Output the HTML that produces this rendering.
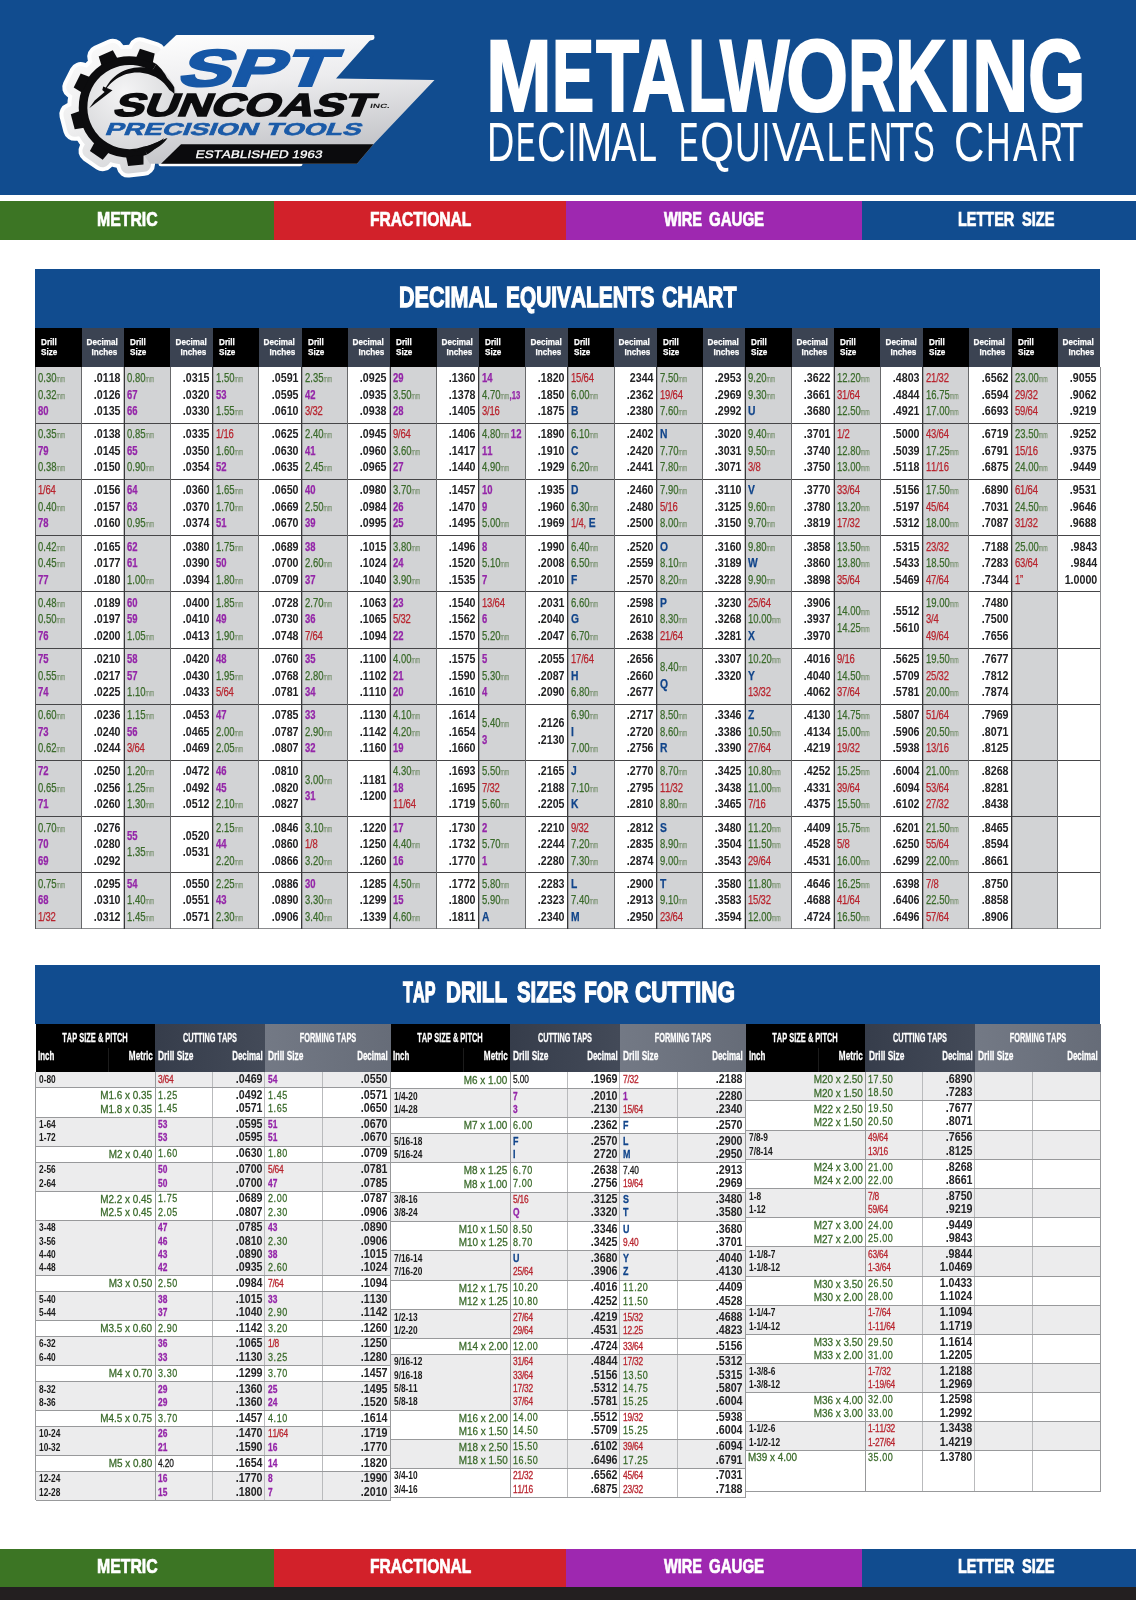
<!DOCTYPE html>
<html lang="en"><head><meta charset="utf-8"><title>Metalworking Decimal Equivalents Chart</title>
<style>
*{box-sizing:border-box}
html,body{margin:0;padding:0}
body{width:1136px;height:1600px;position:relative;overflow:hidden;background:#fff;font-family:"Liberation Sans",sans-serif;font-kerning:none;color:#1a1a1a}
#pg{position:absolute;left:0;top:0;width:1136px;height:1600px;will-change:transform}
.a{position:absolute}
.t{position:absolute;white-space:pre;display:block;transform-origin:0 0;line-height:1}
.tr{transform-origin:100% 0;text-align:right}
.tc{transform-origin:50% 0;text-align:center}
.lw{position:absolute;left:0;color:#fff;line-height:1;white-space:pre}.lw span{position:absolute;top:0;display:block;transform-origin:0 0}

.dc{position:absolute;white-space:nowrap;font-size:12.3px;line-height:16.5px;transform:scaleX(.77);transform-origin:0 0;-webkit-text-stroke:.25px}
.dd{position:absolute;white-space:nowrap;font-size:12.2px;line-height:16.5px;transform:scaleX(.875);transform-origin:100% 0;text-align:right;color:#222224;font-weight:700}
.g{color:#3a6a2a}.r{color:#b8242e;letter-spacing:-.25px}.p{color:#9425a8;font-weight:700}.b{color:#10448a;font-weight:700;font-size:13.4px;line-height:0}.k{color:#1a1a1a}
.g i{font-style:normal;font-size:9.5px;line-height:1;display:inline-block;transform:scaleX(.72);transform-origin:0 50%;color:#7d9474;margin-left:.5px}
.g i.n{margin-right:-4.5px}
.s{font-size:10px;line-height:0}

.tl{position:absolute;white-space:nowrap;line-height:13.3px;transform-origin:0 0}
.ti{font-size:11.2px;transform:scaleX(.745);color:#1a1a1a;font-weight:700}
.tm{font-size:11.7px;transform:scaleX(.85);transform-origin:100% 0;text-align:right;color:#3a6a2a;-webkit-text-stroke:.3px #3a6a2a}
.tml{font-size:11.7px;transform:scaleX(.85);color:#3a6a2a;-webkit-text-stroke:.3px #3a6a2a}
.td{font-size:10.9px;transform:scaleX(.77);-webkit-text-stroke:.3px}
.td .g{font-size:11.7px;letter-spacing:.75px;line-height:0}
.td .k{letter-spacing:-.2px}
.td .b{font-size:11.6px}
.tn{font-size:12.2px;transform:scaleX(.875);transform-origin:100% 0;text-align:right;color:#222224;font-weight:700}
</style></head>
<body>
<div id="pg">
<div class="a" style="left:0px;top:0px;width:1136px;height:194.5px;background:#114c8f;"></div>
<div class="a" style="left:0px;top:201px;width:274.5px;height:39px;background:#3c7524;"></div>
<div class="a" style="left:274px;top:201px;width:292.5px;height:39px;background:#d2212a;"></div>
<div class="a" style="left:566px;top:201px;width:296.8px;height:39px;background:#9e28b0;"></div>
<div class="a" style="left:862.4px;top:201px;width:273.6px;height:39px;background:#114c8f;"></div>
<div class="a" style="left:0px;top:1548.8px;width:274.5px;height:38.5px;background:#3c7524;"></div>
<div class="a" style="left:274px;top:1548.8px;width:292.5px;height:38.5px;background:#d2212a;"></div>
<div class="a" style="left:566px;top:1548.8px;width:296.8px;height:38.5px;background:#9e28b0;"></div>
<div class="a" style="left:862.4px;top:1548.8px;width:273.6px;height:38.5px;background:#114c8f;"></div>
<div class="a" style="left:0px;top:1587.2px;width:1136px;height:12.8px;background:#231f20;"></div>
<svg class="a" style="left:0;top:0" width="1136" height="195" viewBox="0 0 1136 195" font-family="Liberation Sans, sans-serif">
<defs>
<linearGradient id="sv" x1="0" y1="0" x2="0.25" y2="1"><stop offset="0" stop-color="#ffffff"/><stop offset=".45" stop-color="#ececee"/><stop offset="1" stop-color="#c3c4c8"/></linearGradient>
<linearGradient id="hl" gradientUnits="userSpaceOnUse" x1="80" y1="40" x2="150" y2="180"><stop offset="0" stop-color="#fbfbfb"/><stop offset=".5" stop-color="#ededee"/><stop offset="1" stop-color="#cfd0d3"/></linearGradient>
<radialGradient id="sg" cx=".45" cy=".35" r=".75"><stop offset="0" stop-color="#f4f4f5"/><stop offset="1" stop-color="#cfd0d3"/></radialGradient>
</defs>
<g fill="#fefefe" stroke="#fefefe" stroke-linejoin="round" stroke-linecap="round">
<path d="M145.4,150.6 A46.4,46.4 0 1 1 154.1,67.7" fill="none" stroke-width="31.6"/>
<g stroke-width="23"><polygon points="152.7,63.0 154.7,53.5 139.9,48.8 136.1,57.7"/><polygon points="117.6,58.7 112.8,50.3 98.7,56.6 101.6,65.7"/><polygon points="89.8,77.0 80.7,73.6 73.7,87.4 81.8,92.6"/><polygon points="79.9,110.9 70.8,114.3 74.7,129.3 84.3,127.8"/><polygon points="94.5,142.4 89.9,150.9 102.7,159.7 109.0,152.3"/><polygon points="126.1,156.7 128.1,166.1 143.5,164.4 143.5,154.8"/></g>
<circle cx="129.5" cy="107.0" r="46.4" stroke-width="4"/>
<polygon points="181,144.2 300,144.2 300,163.7 161,163.7" stroke-width="5"/>
<polygon points="178,37.5 372,37.5 250,60 168,60" stroke-width="5"/>
</g>
<g fill="url(#hl)" stroke="url(#hl)" stroke-linejoin="round" stroke-linecap="round">
<path d="M145.4,150.6 A46.4,46.4 0 1 1 154.1,67.7" fill="none" stroke-width="23.6"/>
<g stroke-width="15"><polygon points="152.7,63.0 154.7,53.5 139.9,48.8 136.1,57.7"/><polygon points="117.6,58.7 112.8,50.3 98.7,56.6 101.6,65.7"/><polygon points="89.8,77.0 80.7,73.6 73.7,87.4 81.8,92.6"/><polygon points="79.9,110.9 70.8,114.3 74.7,129.3 84.3,127.8"/><polygon points="94.5,142.4 89.9,150.9 102.7,159.7 109.0,152.3"/><polygon points="126.1,156.7 128.1,166.1 143.5,164.4 143.5,154.8"/></g>
</g>
<polygon points="176,35.2 374.5,35.2 336,78.4 434.5,80 373.5,144.3 357,163.7 150,163.7 120,120 150,60" fill="url(#sv)"/>
<circle cx="129.5" cy="107.0" r="49.4" fill="url(#sg)"/>
<polygon points="181,144.2 373.5,144.2 357,163.7 161,163.7" fill="#0b0b0d"/>
<g fill="#0c0c0e">
<path d="M145.4,150.6 A46.4,46.4 0 1 1 154.1,67.7" fill="none" stroke="#0c0c0e" stroke-width="8.6"/>
<polygon points="152.7,63.0 154.7,53.5 139.9,48.8 136.1,57.7"/><polygon points="117.6,58.7 112.8,50.3 98.7,56.6 101.6,65.7"/><polygon points="89.8,77.0 80.7,73.6 73.7,87.4 81.8,92.6"/><polygon points="79.9,110.9 70.8,114.3 74.7,129.3 84.3,127.8"/><polygon points="94.5,142.4 89.9,150.9 102.7,159.7 109.0,152.3"/><polygon points="126.1,156.7 128.1,166.1 143.5,164.4 143.5,154.8"/><polygon points="156.4,64.0 157.7,65.2 158.9,66.5 160.1,67.8 161.3,69.1 162.4,70.5 163.4,71.9 164.4,73.3 165.4,74.7 166.2,76.2 167.0,77.7 167.8,79.2 168.5,80.7 169.1,82.2 169.7,83.8 169.7,83.8 168.6,82.6 167.5,81.4 166.3,80.3 165.1,79.2 163.9,78.2 162.6,77.2 161.3,76.3 160.0,75.4 158.7,74.6 157.4,73.8 156.0,73.1 154.6,72.4 153.2,71.8 151.8,71.3"/><polygon points="146.8,154.6 148.4,153.7 149.9,152.8 151.3,151.7 152.7,150.7 154.1,149.6 155.4,148.4 156.6,147.2 157.9,146.0 159.0,144.8 160.1,143.5 161.2,142.2 162.2,140.8 163.1,139.4 164.0,138.0 164.0,138.0 162.7,139.0 161.3,139.9 159.9,140.8 158.5,141.6 157.1,142.4 155.7,143.0 154.2,143.7 152.8,144.3 151.3,144.8 149.8,145.3 148.4,145.7 146.9,146.0 145.4,146.3 143.9,146.6"/><polygon points="104.3,91.5 105.3,88.7 106.7,86.0 108.4,83.5 110.2,81.1 112.3,78.8 114.5,76.7 116.9,74.8 119.5,73.1 122.2,71.6 125.0,70.3 127.9,69.2 130.9,68.4 134.0,67.7 137.1,67.4 140.2,67.2 143.4,67.3 146.5,67.7 149.6,68.4 152.7,69.4 155.6,70.6 158.4,72.0 161.2,73.6 163.8,75.4 166.2,77.4 168.5,79.6 170.6,82.0 172.5,84.5 174.2,87.2 174.4,90.6 174.4,93.9 174.4,93.9 172.0,91.8 169.4,90.1 167.8,87.8 166.2,85.7 164.3,83.6 162.4,81.8 160.3,80.0 158.0,78.5 155.7,77.1 153.2,75.9 150.7,74.9 148.1,74.0 145.5,73.4 142.8,73.0 140.0,72.6 137.3,72.5 134.5,72.6 131.8,72.9 129.1,73.4 126.4,74.1 123.7,75.1 121.1,76.2 118.6,77.5 116.2,79.0 113.9,80.7 111.8,82.6 109.7,84.6 107.8,86.8 106.0,89.1 104.3,91.5"/><polygon points="103.2,86.6 112.5,90.3 97.3,102.1 89.2,108.3 94.7,100.4 104.6,92.0 102.3,89.9"/><polygon points="133.5,151.0 135.8,151.6 138.2,151.9 140.7,152.0 143.1,151.9 145.5,151.7 147.9,151.2 150.2,150.6 152.6,149.8 154.8,148.9 157.0,147.8 159.0,146.5 161.0,145.0 162.8,143.5 164.6,141.8 166.1,139.9 167.5,137.9 167.5,137.9 165.2,138.8 163.1,139.7 161.0,140.6 158.9,141.5 156.8,142.3 154.7,143.1 152.6,143.9 150.6,144.7 148.5,145.5 146.4,146.3 144.4,147.1 142.2,147.8 140.1,148.6 137.9,149.3 135.7,150.1 133.5,151.0"/>
</g>
<text transform="translate(176.04,86.10) skewX(-22) scale(1.515,1)" font-size="52.03" font-weight="700" fill="#1657a6" stroke="#1657a6" stroke-width="2.0">SPT</text>
<text transform="translate(111.75,115.65) skewX(-22) scale(1.433,1)" font-size="32.12" font-weight="700" fill="#0c0c0e" stroke="#0c0c0e" stroke-width="1.5">SUNCOAST</text>
<text transform="translate(104.33,135.30) skewX(-22) scale(1.604,1)" font-size="17.30" font-weight="700" fill="#1b5ba8" stroke="#1b5ba8" stroke-width="0.6">PRECISION TOOLS</text>
<text transform="translate(195.08,157.85) skewX(-12) scale(1.237,1)" font-size="10.90" fill="#fff" stroke="#fff" stroke-width="0.3">ESTABLISHED 1963</text>
<text transform="translate(369.74,108.40) skewX(-12) scale(1.626,1)" font-size="6.10" font-weight="700" fill="#222">INC.</text>
</svg>
<div class="lw" aria-label="METALWORKING" style="top:25.22px;font-size:101.16px;font-weight:700;-webkit-text-stroke:2.0px #fff;"><span style="left:485.60px;transform:scaleX(0.780)">M</span><span style="left:551.89px;transform:scaleX(0.626)">E</span><span style="left:595.70px;transform:scaleX(0.698)">T</span><span style="left:631.89px;transform:scaleX(0.731)">A</span><span style="left:688.48px;transform:scaleX(0.610)">L</span><span style="left:720.35px;transform:scaleX(0.727)">W</span><span style="left:785.91px;transform:scaleX(0.791)">O</span><span style="left:847.66px;transform:scaleX(0.648)">R</span><span style="left:895.34px;transform:scaleX(0.704)">K</span><span style="left:948.36px;transform:scaleX(0.839)">I</span><span style="left:971.74px;transform:scaleX(0.773)">N</span><span style="left:1027.80px;transform:scaleX(0.730)">G</span></div>
<div class="lw" aria-label="DECIMAL EQUIVALENTS CHART" style="top:113.89px;font-size:55.81px;font-weight:400;"><span style="left:487.10px;transform:scaleX(0.678)">D</span><span style="left:515.51px;transform:scaleX(0.522)">E</span><span style="left:536.96px;transform:scaleX(0.721)">C</span><span style="left:568.13px;transform:scaleX(0.499)">I</span><span style="left:576.39px;transform:scaleX(0.787)">M</span><span style="left:611.12px;transform:scaleX(0.689)">A</span><span style="left:638.31px;transform:scaleX(0.610)">L</span> <span style="left:678.51px;transform:scaleX(0.522)">E</span><span style="left:699.93px;transform:scaleX(0.785)">Q</span><span style="left:735.36px;transform:scaleX(0.637)">U</span><span style="left:762.33px;transform:scaleX(0.499)">I</span><span style="left:772.21px;transform:scaleX(0.768)">V</span><span style="left:795.21px;transform:scaleX(0.786)">A</span><span style="left:827.13px;transform:scaleX(0.540)">L</span><span style="left:846.59px;transform:scaleX(0.526)">E</span><span style="left:869.29px;transform:scaleX(0.571)">N</span><span style="left:889.82px;transform:scaleX(0.703)">T</span><span style="left:913.02px;transform:scaleX(0.585)">S</span> <span style="left:953.76px;transform:scaleX(0.755)">C</span><span style="left:986.01px;transform:scaleX(0.609)">H</span><span style="left:1012.53px;transform:scaleX(0.657)">A</span><span style="left:1039.70px;transform:scaleX(0.567)">R</span><span style="left:1060.24px;transform:scaleX(0.688)">T</span></div>
<div class="t" style="left:97.2206px;top:209.57px;font-size:19.7674px;color:#fff;transform:scaleX(0.802);font-weight:700;-webkit-text-stroke:0.7px #fff;">METRIC</div>
<div class="t" style="left:370.232px;top:209.57px;font-size:19.7674px;color:#fff;transform:scaleX(0.790);font-weight:700;-webkit-text-stroke:0.7px #fff;">FRACTIONAL</div>
<div class="t" style="left:664.244px;top:209.57px;font-size:19.7674px;color:#fff;transform:scaleX(0.738);font-weight:700;-webkit-text-stroke:0.7px #fff;">WIRE</div>
<div class="t" style="left:709.149px;top:209.57px;font-size:19.7674px;color:#fff;transform:scaleX(0.761);font-weight:700;-webkit-text-stroke:0.7px #fff;">GAUGE</div>
<div class="t" style="left:958.288px;top:209.57px;font-size:19.7674px;color:#fff;transform:scaleX(0.732);font-weight:700;-webkit-text-stroke:0.7px #fff;">LETTER</div>
<div class="t" style="left:1021.84px;top:209.57px;font-size:19.7674px;color:#fff;transform:scaleX(0.739);font-weight:700;-webkit-text-stroke:0.7px #fff;">SIZE</div>
<div class="t" style="left:97.2206px;top:1556.97px;font-size:19.7674px;color:#fff;transform:scaleX(0.802);font-weight:700;-webkit-text-stroke:0.7px #fff;">METRIC</div>
<div class="t" style="left:370.232px;top:1556.97px;font-size:19.7674px;color:#fff;transform:scaleX(0.790);font-weight:700;-webkit-text-stroke:0.7px #fff;">FRACTIONAL</div>
<div class="t" style="left:664.244px;top:1556.97px;font-size:19.7674px;color:#fff;transform:scaleX(0.738);font-weight:700;-webkit-text-stroke:0.7px #fff;">WIRE</div>
<div class="t" style="left:709.149px;top:1556.97px;font-size:19.7674px;color:#fff;transform:scaleX(0.761);font-weight:700;-webkit-text-stroke:0.7px #fff;">GAUGE</div>
<div class="t" style="left:958.288px;top:1556.97px;font-size:19.7674px;color:#fff;transform:scaleX(0.732);font-weight:700;-webkit-text-stroke:0.7px #fff;">LETTER</div>
<div class="t" style="left:1021.84px;top:1556.97px;font-size:19.7674px;color:#fff;transform:scaleX(0.739);font-weight:700;-webkit-text-stroke:0.7px #fff;">SIZE</div>
<div class="a" style="left:35.25px;top:269px;width:1065.2px;height:59px;background:#114c8f;"></div>
<div class="t" style="left:399.032px;top:281.90px;font-size:29.5058px;color:#fff;transform:scaleX(0.731);font-weight:700;-webkit-text-stroke:1.3px #fff;">DECIMAL</div>
<div class="t" style="left:505.563px;top:281.90px;font-size:29.5058px;color:#fff;transform:scaleX(0.708);font-weight:700;-webkit-text-stroke:1.3px #fff;">EQUIVALENTS</div>
<div class="t" style="left:661.596px;top:281.90px;font-size:29.5058px;color:#fff;transform:scaleX(0.721);font-weight:700;-webkit-text-stroke:1.3px #fff;">CHART</div>
<div class="a" style="left:35.25px;top:328px;width:46.25px;height:38.6px;background:#000;"></div>
<div class="a" style="left:81.5px;top:328px;width:42.5px;height:38.6px;background:#3b4352;"></div>
<div class="t" style="left:41.25px;top:337.00px;font-size:9.6px;color:#fff;transform:scaleX(0.850);font-weight:700;-webkit-text-stroke:.25px #fff;">Drill</div>
<div class="t" style="left:41.25px;top:346.50px;font-size:9.6px;color:#fff;transform:scaleX(0.850);font-weight:700;-webkit-text-stroke:.25px #fff;">Size</div>
<div class="t tr" style="right:1018.3px;top:337.00px;font-size:9.6px;color:#fff;transform:scaleX(0.850);font-weight:700;-webkit-text-stroke:.25px #fff;">Decimal</div>
<div class="t tr" style="right:1018.3px;top:346.50px;font-size:9.6px;color:#fff;transform:scaleX(0.850);font-weight:700;-webkit-text-stroke:.25px #fff;">Inches</div>
<div class="a" style="left:124px;top:328px;width:46.25px;height:38.6px;background:#000;"></div>
<div class="a" style="left:170.25px;top:328px;width:42.5px;height:38.6px;background:#3b4352;"></div>
<div class="t" style="left:130px;top:337.00px;font-size:9.6px;color:#fff;transform:scaleX(0.850);font-weight:700;-webkit-text-stroke:.25px #fff;">Drill</div>
<div class="t" style="left:130px;top:346.50px;font-size:9.6px;color:#fff;transform:scaleX(0.850);font-weight:700;-webkit-text-stroke:.25px #fff;">Size</div>
<div class="t tr" style="right:929.55px;top:337.00px;font-size:9.6px;color:#fff;transform:scaleX(0.850);font-weight:700;-webkit-text-stroke:.25px #fff;">Decimal</div>
<div class="t tr" style="right:929.55px;top:346.50px;font-size:9.6px;color:#fff;transform:scaleX(0.850);font-weight:700;-webkit-text-stroke:.25px #fff;">Inches</div>
<div class="a" style="left:212.75px;top:328px;width:46.25px;height:38.6px;background:#000;"></div>
<div class="a" style="left:259px;top:328px;width:42.5px;height:38.6px;background:#3b4352;"></div>
<div class="t" style="left:218.75px;top:337.00px;font-size:9.6px;color:#fff;transform:scaleX(0.850);font-weight:700;-webkit-text-stroke:.25px #fff;">Drill</div>
<div class="t" style="left:218.75px;top:346.50px;font-size:9.6px;color:#fff;transform:scaleX(0.850);font-weight:700;-webkit-text-stroke:.25px #fff;">Size</div>
<div class="t tr" style="right:840.8px;top:337.00px;font-size:9.6px;color:#fff;transform:scaleX(0.850);font-weight:700;-webkit-text-stroke:.25px #fff;">Decimal</div>
<div class="t tr" style="right:840.8px;top:346.50px;font-size:9.6px;color:#fff;transform:scaleX(0.850);font-weight:700;-webkit-text-stroke:.25px #fff;">Inches</div>
<div class="a" style="left:301.5px;top:328px;width:46.25px;height:38.6px;background:#000;"></div>
<div class="a" style="left:347.75px;top:328px;width:42.5px;height:38.6px;background:#3b4352;"></div>
<div class="t" style="left:307.5px;top:337.00px;font-size:9.6px;color:#fff;transform:scaleX(0.850);font-weight:700;-webkit-text-stroke:.25px #fff;">Drill</div>
<div class="t" style="left:307.5px;top:346.50px;font-size:9.6px;color:#fff;transform:scaleX(0.850);font-weight:700;-webkit-text-stroke:.25px #fff;">Size</div>
<div class="t tr" style="right:752.05px;top:337.00px;font-size:9.6px;color:#fff;transform:scaleX(0.850);font-weight:700;-webkit-text-stroke:.25px #fff;">Decimal</div>
<div class="t tr" style="right:752.05px;top:346.50px;font-size:9.6px;color:#fff;transform:scaleX(0.850);font-weight:700;-webkit-text-stroke:.25px #fff;">Inches</div>
<div class="a" style="left:390.25px;top:328px;width:46.25px;height:38.6px;background:#000;"></div>
<div class="a" style="left:436.5px;top:328px;width:42.5px;height:38.6px;background:#3b4352;"></div>
<div class="t" style="left:396.25px;top:337.00px;font-size:9.6px;color:#fff;transform:scaleX(0.850);font-weight:700;-webkit-text-stroke:.25px #fff;">Drill</div>
<div class="t" style="left:396.25px;top:346.50px;font-size:9.6px;color:#fff;transform:scaleX(0.850);font-weight:700;-webkit-text-stroke:.25px #fff;">Size</div>
<div class="t tr" style="right:663.3px;top:337.00px;font-size:9.6px;color:#fff;transform:scaleX(0.850);font-weight:700;-webkit-text-stroke:.25px #fff;">Decimal</div>
<div class="t tr" style="right:663.3px;top:346.50px;font-size:9.6px;color:#fff;transform:scaleX(0.850);font-weight:700;-webkit-text-stroke:.25px #fff;">Inches</div>
<div class="a" style="left:479px;top:328px;width:46.25px;height:38.6px;background:#000;"></div>
<div class="a" style="left:525.25px;top:328px;width:42.5px;height:38.6px;background:#3b4352;"></div>
<div class="t" style="left:485px;top:337.00px;font-size:9.6px;color:#fff;transform:scaleX(0.850);font-weight:700;-webkit-text-stroke:.25px #fff;">Drill</div>
<div class="t" style="left:485px;top:346.50px;font-size:9.6px;color:#fff;transform:scaleX(0.850);font-weight:700;-webkit-text-stroke:.25px #fff;">Size</div>
<div class="t tr" style="right:574.55px;top:337.00px;font-size:9.6px;color:#fff;transform:scaleX(0.850);font-weight:700;-webkit-text-stroke:.25px #fff;">Decimal</div>
<div class="t tr" style="right:574.55px;top:346.50px;font-size:9.6px;color:#fff;transform:scaleX(0.850);font-weight:700;-webkit-text-stroke:.25px #fff;">Inches</div>
<div class="a" style="left:567.75px;top:328px;width:46.25px;height:38.6px;background:#000;"></div>
<div class="a" style="left:614px;top:328px;width:42.5px;height:38.6px;background:#3b4352;"></div>
<div class="t" style="left:573.75px;top:337.00px;font-size:9.6px;color:#fff;transform:scaleX(0.850);font-weight:700;-webkit-text-stroke:.25px #fff;">Drill</div>
<div class="t" style="left:573.75px;top:346.50px;font-size:9.6px;color:#fff;transform:scaleX(0.850);font-weight:700;-webkit-text-stroke:.25px #fff;">Size</div>
<div class="t tr" style="right:485.8px;top:337.00px;font-size:9.6px;color:#fff;transform:scaleX(0.850);font-weight:700;-webkit-text-stroke:.25px #fff;">Decimal</div>
<div class="t tr" style="right:485.8px;top:346.50px;font-size:9.6px;color:#fff;transform:scaleX(0.850);font-weight:700;-webkit-text-stroke:.25px #fff;">Inches</div>
<div class="a" style="left:656.5px;top:328px;width:46.25px;height:38.6px;background:#000;"></div>
<div class="a" style="left:702.75px;top:328px;width:42.5px;height:38.6px;background:#3b4352;"></div>
<div class="t" style="left:662.5px;top:337.00px;font-size:9.6px;color:#fff;transform:scaleX(0.850);font-weight:700;-webkit-text-stroke:.25px #fff;">Drill</div>
<div class="t" style="left:662.5px;top:346.50px;font-size:9.6px;color:#fff;transform:scaleX(0.850);font-weight:700;-webkit-text-stroke:.25px #fff;">Size</div>
<div class="t tr" style="right:397.05px;top:337.00px;font-size:9.6px;color:#fff;transform:scaleX(0.850);font-weight:700;-webkit-text-stroke:.25px #fff;">Decimal</div>
<div class="t tr" style="right:397.05px;top:346.50px;font-size:9.6px;color:#fff;transform:scaleX(0.850);font-weight:700;-webkit-text-stroke:.25px #fff;">Inches</div>
<div class="a" style="left:745.25px;top:328px;width:46.25px;height:38.6px;background:#000;"></div>
<div class="a" style="left:791.5px;top:328px;width:42.5px;height:38.6px;background:#3b4352;"></div>
<div class="t" style="left:751.25px;top:337.00px;font-size:9.6px;color:#fff;transform:scaleX(0.850);font-weight:700;-webkit-text-stroke:.25px #fff;">Drill</div>
<div class="t" style="left:751.25px;top:346.50px;font-size:9.6px;color:#fff;transform:scaleX(0.850);font-weight:700;-webkit-text-stroke:.25px #fff;">Size</div>
<div class="t tr" style="right:308.3px;top:337.00px;font-size:9.6px;color:#fff;transform:scaleX(0.850);font-weight:700;-webkit-text-stroke:.25px #fff;">Decimal</div>
<div class="t tr" style="right:308.3px;top:346.50px;font-size:9.6px;color:#fff;transform:scaleX(0.850);font-weight:700;-webkit-text-stroke:.25px #fff;">Inches</div>
<div class="a" style="left:834px;top:328px;width:46.25px;height:38.6px;background:#000;"></div>
<div class="a" style="left:880.25px;top:328px;width:42.5px;height:38.6px;background:#3b4352;"></div>
<div class="t" style="left:840px;top:337.00px;font-size:9.6px;color:#fff;transform:scaleX(0.850);font-weight:700;-webkit-text-stroke:.25px #fff;">Drill</div>
<div class="t" style="left:840px;top:346.50px;font-size:9.6px;color:#fff;transform:scaleX(0.850);font-weight:700;-webkit-text-stroke:.25px #fff;">Size</div>
<div class="t tr" style="right:219.55px;top:337.00px;font-size:9.6px;color:#fff;transform:scaleX(0.850);font-weight:700;-webkit-text-stroke:.25px #fff;">Decimal</div>
<div class="t tr" style="right:219.55px;top:346.50px;font-size:9.6px;color:#fff;transform:scaleX(0.850);font-weight:700;-webkit-text-stroke:.25px #fff;">Inches</div>
<div class="a" style="left:922.75px;top:328px;width:46.25px;height:38.6px;background:#000;"></div>
<div class="a" style="left:969px;top:328px;width:42.5px;height:38.6px;background:#3b4352;"></div>
<div class="t" style="left:928.75px;top:337.00px;font-size:9.6px;color:#fff;transform:scaleX(0.850);font-weight:700;-webkit-text-stroke:.25px #fff;">Drill</div>
<div class="t" style="left:928.75px;top:346.50px;font-size:9.6px;color:#fff;transform:scaleX(0.850);font-weight:700;-webkit-text-stroke:.25px #fff;">Size</div>
<div class="t tr" style="right:130.8px;top:337.00px;font-size:9.6px;color:#fff;transform:scaleX(0.850);font-weight:700;-webkit-text-stroke:.25px #fff;">Decimal</div>
<div class="t tr" style="right:130.8px;top:346.50px;font-size:9.6px;color:#fff;transform:scaleX(0.850);font-weight:700;-webkit-text-stroke:.25px #fff;">Inches</div>
<div class="a" style="left:1011.5px;top:328px;width:46.25px;height:38.6px;background:#000;"></div>
<div class="a" style="left:1057.75px;top:328px;width:42.5px;height:38.6px;background:#3b4352;"></div>
<div class="t" style="left:1017.5px;top:337.00px;font-size:9.6px;color:#fff;transform:scaleX(0.850);font-weight:700;-webkit-text-stroke:.25px #fff;">Drill</div>
<div class="t" style="left:1017.5px;top:346.50px;font-size:9.6px;color:#fff;transform:scaleX(0.850);font-weight:700;-webkit-text-stroke:.25px #fff;">Size</div>
<div class="t tr" style="right:42.05px;top:337.00px;font-size:9.6px;color:#fff;transform:scaleX(0.850);font-weight:700;-webkit-text-stroke:.25px #fff;">Decimal</div>
<div class="t tr" style="right:42.05px;top:346.50px;font-size:9.6px;color:#fff;transform:scaleX(0.850);font-weight:700;-webkit-text-stroke:.25px #fff;">Inches</div>
<div class="a" style="left:35.25px;top:366.6px;width:46.25px;height:562px;background:#d2d3d5;"></div>
<div class="a" style="left:124px;top:366.6px;width:46.25px;height:562px;background:#d2d3d5;"></div>
<div class="a" style="left:212.75px;top:366.6px;width:46.25px;height:562px;background:#d2d3d5;"></div>
<div class="a" style="left:301.5px;top:366.6px;width:46.25px;height:562px;background:#d2d3d5;"></div>
<div class="a" style="left:390.25px;top:366.6px;width:46.25px;height:562px;background:#d2d3d5;"></div>
<div class="a" style="left:479px;top:366.6px;width:46.25px;height:562px;background:#d2d3d5;"></div>
<div class="a" style="left:567.75px;top:366.6px;width:46.25px;height:562px;background:#d2d3d5;"></div>
<div class="a" style="left:656.5px;top:366.6px;width:46.25px;height:562px;background:#d2d3d5;"></div>
<div class="a" style="left:745.25px;top:366.6px;width:46.25px;height:562px;background:#d2d3d5;"></div>
<div class="a" style="left:834px;top:366.6px;width:46.25px;height:562px;background:#d2d3d5;"></div>
<div class="a" style="left:922.75px;top:366.6px;width:46.25px;height:562px;background:#d2d3d5;"></div>
<div class="a" style="left:1011.5px;top:366.6px;width:46.25px;height:562px;background:#d2d3d5;"></div>
<div class="a" style="left:35.25px;top:423px;width:1065.2px;height:1px;background:#454547;"></div>
<div class="a" style="left:35.25px;top:479px;width:1065.2px;height:1px;background:#454547;"></div>
<div class="a" style="left:35.25px;top:535px;width:1065.2px;height:1px;background:#454547;"></div>
<div class="a" style="left:35.25px;top:591px;width:1065.2px;height:1px;background:#454547;"></div>
<div class="a" style="left:35.25px;top:648px;width:1065.2px;height:1px;background:#454547;"></div>
<div class="a" style="left:35.25px;top:704px;width:1065.2px;height:1px;background:#454547;"></div>
<div class="a" style="left:35.25px;top:760px;width:1065.2px;height:1px;background:#454547;"></div>
<div class="a" style="left:35.25px;top:816px;width:1065.2px;height:1px;background:#454547;"></div>
<div class="a" style="left:35.25px;top:872px;width:1065.2px;height:1px;background:#454547;"></div>
<div class="a" style="left:35.25px;top:928px;width:1065.2px;height:1px;background:#8a8b8d;"></div>
<div class="a" style="left:35px;top:366.6px;width:1px;height:562.4px;background:#5a5a5c;"></div>
<div class="a" style="left:81px;top:366.6px;width:1px;height:562.4px;background:#68696b;"></div>
<div class="a" style="left:124px;top:366.6px;width:1px;height:562.4px;background:#38383a;"></div>
<div class="a" style="left:123px;top:366.6px;width:1px;height:562.4px;background:rgba(56,56,58,.3);"></div>
<div class="a" style="left:170px;top:366.6px;width:1px;height:562.4px;background:#68696b;"></div>
<div class="a" style="left:212px;top:366.6px;width:1px;height:562.4px;background:#38383a;"></div>
<div class="a" style="left:213px;top:366.6px;width:1px;height:562.4px;background:rgba(56,56,58,.3);"></div>
<div class="a" style="left:258px;top:366.6px;width:1px;height:562.4px;background:#68696b;"></div>
<div class="a" style="left:301px;top:366.6px;width:1px;height:562.4px;background:#38383a;"></div>
<div class="a" style="left:302px;top:366.6px;width:1px;height:562.4px;background:rgba(56,56,58,.3);"></div>
<div class="a" style="left:347px;top:366.6px;width:1px;height:562.4px;background:#68696b;"></div>
<div class="a" style="left:390px;top:366.6px;width:1px;height:562.4px;background:#38383a;"></div>
<div class="a" style="left:389px;top:366.6px;width:1px;height:562.4px;background:rgba(56,56,58,.3);"></div>
<div class="a" style="left:436px;top:366.6px;width:1px;height:562.4px;background:#68696b;"></div>
<div class="a" style="left:478px;top:366.6px;width:1px;height:562.4px;background:#38383a;"></div>
<div class="a" style="left:479px;top:366.6px;width:1px;height:562.4px;background:rgba(56,56,58,.3);"></div>
<div class="a" style="left:525px;top:366.6px;width:1px;height:562.4px;background:#68696b;"></div>
<div class="a" style="left:567px;top:366.6px;width:1px;height:562.4px;background:#38383a;"></div>
<div class="a" style="left:568px;top:366.6px;width:1px;height:562.4px;background:rgba(56,56,58,.3);"></div>
<div class="a" style="left:614px;top:366.6px;width:1px;height:562.4px;background:#68696b;"></div>
<div class="a" style="left:656px;top:366.6px;width:1px;height:562.4px;background:#38383a;"></div>
<div class="a" style="left:657px;top:366.6px;width:1px;height:562.4px;background:rgba(56,56,58,.3);"></div>
<div class="a" style="left:702px;top:366.6px;width:1px;height:562.4px;background:#68696b;"></div>
<div class="a" style="left:745px;top:366.6px;width:1px;height:562.4px;background:#38383a;"></div>
<div class="a" style="left:744px;top:366.6px;width:1px;height:562.4px;background:rgba(56,56,58,.3);"></div>
<div class="a" style="left:791px;top:366.6px;width:1px;height:562.4px;background:#68696b;"></div>
<div class="a" style="left:834px;top:366.6px;width:1px;height:562.4px;background:#38383a;"></div>
<div class="a" style="left:833px;top:366.6px;width:1px;height:562.4px;background:rgba(56,56,58,.3);"></div>
<div class="a" style="left:880px;top:366.6px;width:1px;height:562.4px;background:#68696b;"></div>
<div class="a" style="left:922px;top:366.6px;width:1px;height:562.4px;background:#38383a;"></div>
<div class="a" style="left:923px;top:366.6px;width:1px;height:562.4px;background:rgba(56,56,58,.3);"></div>
<div class="a" style="left:968px;top:366.6px;width:1px;height:562.4px;background:#68696b;"></div>
<div class="a" style="left:1011px;top:366.6px;width:1px;height:562.4px;background:#38383a;"></div>
<div class="a" style="left:1012px;top:366.6px;width:1px;height:562.4px;background:rgba(56,56,58,.3);"></div>
<div class="a" style="left:1057px;top:366.6px;width:1px;height:562.4px;background:#68696b;"></div>
<div class="a" style="left:1100px;top:366.6px;width:1px;height:562.4px;background:#8a8b8d;"></div>
<div class="dc" style="left:38.45px;top:370.00px"><span class="g">0.30<i>mm</i></span><br><span class="g">0.32<i>mm</i></span><br><span class="p">80</span></div>
<div class="dd" style="right:1015.4px;top:370.00px">.0118<br>.0126<br>.0135</div>
<div class="dc" style="left:38.45px;top:426.20px"><span class="g">0.35<i>mm</i></span><br><span class="p">79</span><br><span class="g">0.38<i>mm</i></span></div>
<div class="dd" style="right:1015.4px;top:426.20px">.0138<br>.0145<br>.0150</div>
<div class="dc" style="left:38.45px;top:482.40px"><span class="r">1/64</span><br><span class="g">0.40<i>mm</i></span><br><span class="p">78</span></div>
<div class="dd" style="right:1015.4px;top:482.40px">.0156<br>.0157<br>.0160</div>
<div class="dc" style="left:38.45px;top:538.60px"><span class="g">0.42<i>mm</i></span><br><span class="g">0.45<i>mm</i></span><br><span class="p">77</span></div>
<div class="dd" style="right:1015.4px;top:538.60px">.0165<br>.0177<br>.0180</div>
<div class="dc" style="left:38.45px;top:594.80px"><span class="g">0.48<i>mm</i></span><br><span class="g">0.50<i>mm</i></span><br><span class="p">76</span></div>
<div class="dd" style="right:1015.4px;top:594.80px">.0189<br>.0197<br>.0200</div>
<div class="dc" style="left:38.45px;top:651.00px"><span class="p">75</span><br><span class="g">0.55<i>mm</i></span><br><span class="p">74</span></div>
<div class="dd" style="right:1015.4px;top:651.00px">.0210<br>.0217<br>.0225</div>
<div class="dc" style="left:38.45px;top:707.20px"><span class="g">0.60<i>mm</i></span><br><span class="p">73</span><br><span class="g">0.62<i>mm</i></span></div>
<div class="dd" style="right:1015.4px;top:707.20px">.0236<br>.0240<br>.0244</div>
<div class="dc" style="left:38.45px;top:763.40px"><span class="p">72</span><br><span class="g">0.65<i>mm</i></span><br><span class="p">71</span></div>
<div class="dd" style="right:1015.4px;top:763.40px">.0250<br>.0256<br>.0260</div>
<div class="dc" style="left:38.45px;top:819.60px"><span class="g">0.70<i>mm</i></span><br><span class="p">70</span><br><span class="p">69</span></div>
<div class="dd" style="right:1015.4px;top:819.60px">.0276<br>.0280<br>.0292</div>
<div class="dc" style="left:38.45px;top:875.80px"><span class="g">0.75<i>mm</i></span><br><span class="p">68</span><br><span class="r">1/32</span></div>
<div class="dd" style="right:1015.4px;top:875.80px">.0295<br>.0310<br>.0312</div>
<div class="dc" style="left:127.2px;top:370.00px"><span class="g">0.80<i>mm</i></span><br><span class="p">67</span><br><span class="p">66</span></div>
<div class="dd" style="right:926.65px;top:370.00px">.0315<br>.0320<br>.0330</div>
<div class="dc" style="left:127.2px;top:426.20px"><span class="g">0.85<i>mm</i></span><br><span class="p">65</span><br><span class="g">0.90<i>mm</i></span></div>
<div class="dd" style="right:926.65px;top:426.20px">.0335<br>.0350<br>.0354</div>
<div class="dc" style="left:127.2px;top:482.40px"><span class="p">64</span><br><span class="p">63</span><br><span class="g">0.95<i>mm</i></span></div>
<div class="dd" style="right:926.65px;top:482.40px">.0360<br>.0370<br>.0374</div>
<div class="dc" style="left:127.2px;top:538.60px"><span class="p">62</span><br><span class="p">61</span><br><span class="g">1.00<i>mm</i></span></div>
<div class="dd" style="right:926.65px;top:538.60px">.0380<br>.0390<br>.0394</div>
<div class="dc" style="left:127.2px;top:594.80px"><span class="p">60</span><br><span class="p">59</span><br><span class="g">1.05<i>mm</i></span></div>
<div class="dd" style="right:926.65px;top:594.80px">.0400<br>.0410<br>.0413</div>
<div class="dc" style="left:127.2px;top:651.00px"><span class="p">58</span><br><span class="p">57</span><br><span class="g">1.10<i>mm</i></span></div>
<div class="dd" style="right:926.65px;top:651.00px">.0420<br>.0430<br>.0433</div>
<div class="dc" style="left:127.2px;top:707.20px"><span class="g">1.15<i>mm</i></span><br><span class="p">56</span><br><span class="r">3/64</span></div>
<div class="dd" style="right:926.65px;top:707.20px">.0453<br>.0465<br>.0469</div>
<div class="dc" style="left:127.2px;top:763.40px"><span class="g">1.20<i>mm</i></span><br><span class="g">1.25<i>mm</i></span><br><span class="g">1.30<i>mm</i></span></div>
<div class="dd" style="right:926.65px;top:763.40px">.0472<br>.0492<br>.0512</div>
<div class="dc" style="left:127.2px;top:827.85px"><span class="p">55</span><br><span class="g">1.35<i>mm</i></span></div>
<div class="dd" style="right:926.65px;top:827.85px">.0520<br>.0531</div>
<div class="dc" style="left:127.2px;top:875.80px"><span class="p">54</span><br><span class="g">1.40<i>mm</i></span><br><span class="g">1.45<i>mm</i></span></div>
<div class="dd" style="right:926.65px;top:875.80px">.0550<br>.0551<br>.0571</div>
<div class="dc" style="left:215.95px;top:370.00px"><span class="g">1.50<i>mm</i></span><br><span class="p">53</span><br><span class="g">1.55<i>mm</i></span></div>
<div class="dd" style="right:837.9px;top:370.00px">.0591<br>.0595<br>.0610</div>
<div class="dc" style="left:215.95px;top:426.20px"><span class="r">1/16</span><br><span class="g">1.60<i>mm</i></span><br><span class="p">52</span></div>
<div class="dd" style="right:837.9px;top:426.20px">.0625<br>.0630<br>.0635</div>
<div class="dc" style="left:215.95px;top:482.40px"><span class="g">1.65<i>mm</i></span><br><span class="g">1.70<i>mm</i></span><br><span class="p">51</span></div>
<div class="dd" style="right:837.9px;top:482.40px">.0650<br>.0669<br>.0670</div>
<div class="dc" style="left:215.95px;top:538.60px"><span class="g">1.75<i>mm</i></span><br><span class="p">50</span><br><span class="g">1.80<i>mm</i></span></div>
<div class="dd" style="right:837.9px;top:538.60px">.0689<br>.0700<br>.0709</div>
<div class="dc" style="left:215.95px;top:594.80px"><span class="g">1.85<i>mm</i></span><br><span class="p">49</span><br><span class="g">1.90<i>mm</i></span></div>
<div class="dd" style="right:837.9px;top:594.80px">.0728<br>.0730<br>.0748</div>
<div class="dc" style="left:215.95px;top:651.00px"><span class="p">48</span><br><span class="g">1.95<i>mm</i></span><br><span class="r">5/64</span></div>
<div class="dd" style="right:837.9px;top:651.00px">.0760<br>.0768<br>.0781</div>
<div class="dc" style="left:215.95px;top:707.20px"><span class="p">47</span><br><span class="g">2.00<i>mm</i></span><br><span class="g">2.05<i>mm</i></span></div>
<div class="dd" style="right:837.9px;top:707.20px">.0785<br>.0787<br>.0807</div>
<div class="dc" style="left:215.95px;top:763.40px"><span class="p">46</span><br><span class="p">45</span><br><span class="g">2.10<i>mm</i></span></div>
<div class="dd" style="right:837.9px;top:763.40px">.0810<br>.0820<br>.0827</div>
<div class="dc" style="left:215.95px;top:819.60px"><span class="g">2.15<i>mm</i></span><br><span class="p">44</span><br><span class="g">2.20<i>mm</i></span></div>
<div class="dd" style="right:837.9px;top:819.60px">.0846<br>.0860<br>.0866</div>
<div class="dc" style="left:215.95px;top:875.80px"><span class="g">2.25<i>mm</i></span><br><span class="p">43</span><br><span class="g">2.30<i>mm</i></span></div>
<div class="dd" style="right:837.9px;top:875.80px">.0886<br>.0890<br>.0906</div>
<div class="dc" style="left:304.7px;top:370.00px"><span class="g">2.35<i>mm</i></span><br><span class="p">42</span><br><span class="r">3/32</span></div>
<div class="dd" style="right:749.15px;top:370.00px">.0925<br>.0935<br>.0938</div>
<div class="dc" style="left:304.7px;top:426.20px"><span class="g">2.40<i>mm</i></span><br><span class="p">41</span><br><span class="g">2.45<i>mm</i></span></div>
<div class="dd" style="right:749.15px;top:426.20px">.0945<br>.0960<br>.0965</div>
<div class="dc" style="left:304.7px;top:482.40px"><span class="p">40</span><br><span class="g">2.50<i>mm</i></span><br><span class="p">39</span></div>
<div class="dd" style="right:749.15px;top:482.40px">.0980<br>.0984<br>.0995</div>
<div class="dc" style="left:304.7px;top:538.60px"><span class="p">38</span><br><span class="g">2.60<i>mm</i></span><br><span class="p">37</span></div>
<div class="dd" style="right:749.15px;top:538.60px">.1015<br>.1024<br>.1040</div>
<div class="dc" style="left:304.7px;top:594.80px"><span class="g">2.70<i>mm</i></span><br><span class="p">36</span><br><span class="r">7/64</span></div>
<div class="dd" style="right:749.15px;top:594.80px">.1063<br>.1065<br>.1094</div>
<div class="dc" style="left:304.7px;top:651.00px"><span class="p">35</span><br><span class="g">2.80<i>mm</i></span><br><span class="p">34</span></div>
<div class="dd" style="right:749.15px;top:651.00px">.1100<br>.1102<br>.1110</div>
<div class="dc" style="left:304.7px;top:707.20px"><span class="p">33</span><br><span class="g">2.90<i>mm</i></span><br><span class="p">32</span></div>
<div class="dd" style="right:749.15px;top:707.20px">.1130<br>.1142<br>.1160</div>
<div class="dc" style="left:304.7px;top:771.65px"><span class="g">3.00<i>mm</i></span><br><span class="p">31</span></div>
<div class="dd" style="right:749.15px;top:771.65px">.1181<br>.1200</div>
<div class="dc" style="left:304.7px;top:819.60px"><span class="g">3.10<i>mm</i></span><br><span class="r">1/8</span><br><span class="g">3.20<i>mm</i></span></div>
<div class="dd" style="right:749.15px;top:819.60px">.1220<br>.1250<br>.1260</div>
<div class="dc" style="left:304.7px;top:875.80px"><span class="p">30</span><br><span class="g">3.30<i>mm</i></span><br><span class="g">3.40<i>mm</i></span></div>
<div class="dd" style="right:749.15px;top:875.80px">.1285<br>.1299<br>.1339</div>
<div class="dc" style="left:393.45px;top:370.00px"><span class="p">29</span><br><span class="g">3.50<i>mm</i></span><br><span class="p">28</span></div>
<div class="dd" style="right:660.4px;top:370.00px">.1360<br>.1378<br>.1405</div>
<div class="dc" style="left:393.45px;top:426.20px"><span class="r">9/64</span><br><span class="g">3.60<i>mm</i></span><br><span class="p">27</span></div>
<div class="dd" style="right:660.4px;top:426.20px">.1406<br>.1417<br>.1440</div>
<div class="dc" style="left:393.45px;top:482.40px"><span class="g">3.70<i>mm</i></span><br><span class="p">26</span><br><span class="p">25</span></div>
<div class="dd" style="right:660.4px;top:482.40px">.1457<br>.1470<br>.1495</div>
<div class="dc" style="left:393.45px;top:538.60px"><span class="g">3.80<i>mm</i></span><br><span class="p">24</span><br><span class="g">3.90<i>mm</i></span></div>
<div class="dd" style="right:660.4px;top:538.60px">.1496<br>.1520<br>.1535</div>
<div class="dc" style="left:393.45px;top:594.80px"><span class="p">23</span><br><span class="r">5/32</span><br><span class="p">22</span></div>
<div class="dd" style="right:660.4px;top:594.80px">.1540<br>.1562<br>.1570</div>
<div class="dc" style="left:393.45px;top:651.00px"><span class="g">4.00<i>mm</i></span><br><span class="p">21</span><br><span class="p">20</span></div>
<div class="dd" style="right:660.4px;top:651.00px">.1575<br>.1590<br>.1610</div>
<div class="dc" style="left:393.45px;top:707.20px"><span class="g">4.10<i>mm</i></span><br><span class="g">4.20<i>mm</i></span><br><span class="p">19</span></div>
<div class="dd" style="right:660.4px;top:707.20px">.1614<br>.1654<br>.1660</div>
<div class="dc" style="left:393.45px;top:763.40px"><span class="g">4.30<i>mm</i></span><br><span class="p">18</span><br><span class="r">11/64</span></div>
<div class="dd" style="right:660.4px;top:763.40px">.1693<br>.1695<br>.1719</div>
<div class="dc" style="left:393.45px;top:819.60px"><span class="p">17</span><br><span class="g">4.40<i>mm</i></span><br><span class="p">16</span></div>
<div class="dd" style="right:660.4px;top:819.60px">.1730<br>.1732<br>.1770</div>
<div class="dc" style="left:393.45px;top:875.80px"><span class="g">4.50<i>mm</i></span><br><span class="p">15</span><br><span class="g">4.60<i>mm</i></span></div>
<div class="dd" style="right:660.4px;top:875.80px">.1772<br>.1800<br>.1811</div>
<div class="dc" style="left:482.2px;top:370.00px"><span class="p">14</span><br><span class="g">4.70<i class="n">mm</i></span><span class="p s">,13</span><br><span class="r">3/16</span></div>
<div class="dd" style="right:571.65px;top:370.00px">.1820<br>.1850<br>.1875</div>
<div class="dc" style="left:482.2px;top:426.20px"><span class="g">4.80<i class="n" style="margin-right:-6.2px">mm</i></span><span class="p"> 12</span><br><span class="p">11</span><br><span class="g">4.90<i>mm</i></span></div>
<div class="dd" style="right:571.65px;top:426.20px">.1890<br>.1910<br>.1929</div>
<div class="dc" style="left:482.2px;top:482.40px"><span class="p">10</span><br><span class="p">9</span><br><span class="g">5.00<i>mm</i></span></div>
<div class="dd" style="right:571.65px;top:482.40px">.1935<br>.1960<br>.1969</div>
<div class="dc" style="left:482.2px;top:538.60px"><span class="p">8</span><br><span class="g">5.10<i>mm</i></span><br><span class="p">7</span></div>
<div class="dd" style="right:571.65px;top:538.60px">.1990<br>.2008<br>.2010</div>
<div class="dc" style="left:482.2px;top:594.80px"><span class="r">13/64</span><br><span class="p">6</span><br><span class="g">5.20<i>mm</i></span></div>
<div class="dd" style="right:571.65px;top:594.80px">.2031<br>.2040<br>.2047</div>
<div class="dc" style="left:482.2px;top:651.00px"><span class="p">5</span><br><span class="g">5.30<i>mm</i></span><br><span class="p">4</span></div>
<div class="dd" style="right:571.65px;top:651.00px">.2055<br>.2087<br>.2090</div>
<div class="dc" style="left:482.2px;top:715.45px"><span class="g">5.40<i>mm</i></span><br><span class="p">3</span></div>
<div class="dd" style="right:571.65px;top:715.45px">.2126<br>.2130</div>
<div class="dc" style="left:482.2px;top:763.40px"><span class="g">5.50<i>mm</i></span><br><span class="r">7/32</span><br><span class="g">5.60<i>mm</i></span></div>
<div class="dd" style="right:571.65px;top:763.40px">.2165<br>.2188<br>.2205</div>
<div class="dc" style="left:482.2px;top:819.60px"><span class="p">2</span><br><span class="g">5.70<i>mm</i></span><br><span class="p">1</span></div>
<div class="dd" style="right:571.65px;top:819.60px">.2210<br>.2244<br>.2280</div>
<div class="dc" style="left:482.2px;top:875.80px"><span class="g">5.80<i>mm</i></span><br><span class="g">5.90<i>mm</i></span><br><span class="b">A</span></div>
<div class="dd" style="right:571.65px;top:875.80px">.2283<br>.2323<br>.2340</div>
<div class="dc" style="left:570.95px;top:370.00px"><span class="r">15/64</span><br><span class="g">6.00<i>mm</i></span><br><span class="b">B</span></div>
<div class="dd" style="right:482.9px;top:370.00px">2344<br>.2362<br>.2380</div>
<div class="dc" style="left:570.95px;top:426.20px"><span class="g">6.10<i>mm</i></span><br><span class="b">C</span><br><span class="g">6.20<i>mm</i></span></div>
<div class="dd" style="right:482.9px;top:426.20px">.2402<br>.2420<br>.2441</div>
<div class="dc" style="left:570.95px;top:482.40px"><span class="b">D</span><br><span class="g">6.30<i>mm</i></span><br><span class="r">1/4,</span> <span class="b">E</span></div>
<div class="dd" style="right:482.9px;top:482.40px">.2460<br>.2480<br>.2500</div>
<div class="dc" style="left:570.95px;top:538.60px"><span class="g">6.40<i>mm</i></span><br><span class="g">6.50<i>mm</i></span><br><span class="b">F</span></div>
<div class="dd" style="right:482.9px;top:538.60px">.2520<br>.2559<br>.2570</div>
<div class="dc" style="left:570.95px;top:594.80px"><span class="g">6.60<i>mm</i></span><br><span class="b">G</span><br><span class="g">6.70<i>mm</i></span></div>
<div class="dd" style="right:482.9px;top:594.80px">.2598<br>2610<br>.2638</div>
<div class="dc" style="left:570.95px;top:651.00px"><span class="r">17/64</span><br><span class="b">H</span><br><span class="g">6.80<i>mm</i></span></div>
<div class="dd" style="right:482.9px;top:651.00px">.2656<br>.2660<br>.2677</div>
<div class="dc" style="left:570.95px;top:707.20px"><span class="g">6.90<i>mm</i></span><br><span class="b">I</span><br><span class="g">7.00<i>mm</i></span></div>
<div class="dd" style="right:482.9px;top:707.20px">.2717<br>.2720<br>.2756</div>
<div class="dc" style="left:570.95px;top:763.40px"><span class="b">J</span><br><span class="g">7.10<i>mm</i></span><br><span class="b">K</span></div>
<div class="dd" style="right:482.9px;top:763.40px">.2770<br>.2795<br>.2810</div>
<div class="dc" style="left:570.95px;top:819.60px"><span class="r">9/32</span><br><span class="g">7.20<i>mm</i></span><br><span class="g">7.30<i>mm</i></span></div>
<div class="dd" style="right:482.9px;top:819.60px">.2812<br>.2835<br>.2874</div>
<div class="dc" style="left:570.95px;top:875.80px"><span class="b">L</span><br><span class="g">7.40<i>mm</i></span><br><span class="b">M</span></div>
<div class="dd" style="right:482.9px;top:875.80px">.2900<br>.2913<br>.2950</div>
<div class="dc" style="left:659.7px;top:370.00px"><span class="g">7.50<i>mm</i></span><br><span class="r">19/64</span><br><span class="g">7.60<i>mm</i></span></div>
<div class="dd" style="right:394.15px;top:370.00px">.2953<br>.2969<br>.2992</div>
<div class="dc" style="left:659.7px;top:426.20px"><span class="b">N</span><br><span class="g">7.70<i>mm</i></span><br><span class="g">7.80<i>mm</i></span></div>
<div class="dd" style="right:394.15px;top:426.20px">.3020<br>.3031<br>.3071</div>
<div class="dc" style="left:659.7px;top:482.40px"><span class="g">7.90<i>mm</i></span><br><span class="r">5/16</span><br><span class="g">8.00<i>mm</i></span></div>
<div class="dd" style="right:394.15px;top:482.40px">.3110<br>.3125<br>.3150</div>
<div class="dc" style="left:659.7px;top:538.60px"><span class="b">O</span><br><span class="g">8.10<i>mm</i></span><br><span class="g">8.20<i>mm</i></span></div>
<div class="dd" style="right:394.15px;top:538.60px">.3160<br>.3189<br>.3228</div>
<div class="dc" style="left:659.7px;top:594.80px"><span class="b">P</span><br><span class="g">8.30<i>mm</i></span><br><span class="r">21/64</span></div>
<div class="dd" style="right:394.15px;top:594.80px">.3230<br>.3268<br>.3281</div>
<div class="dc" style="left:659.7px;top:659.25px"><span class="g">8.40<i>mm</i></span><br><span class="b">Q</span></div>
<div class="dd" style="right:394.15px;top:651.00px">.3307<br>.3320</div>
<div class="dc" style="left:659.7px;top:707.20px"><span class="g">8.50<i>mm</i></span><br><span class="g">8.60<i>mm</i></span><br><span class="b">R</span></div>
<div class="dd" style="right:394.15px;top:707.20px">.3346<br>.3386<br>.3390</div>
<div class="dc" style="left:659.7px;top:763.40px"><span class="g">8.70<i>mm</i></span><br><span class="r">11/32</span><br><span class="g">8.80<i>mm</i></span></div>
<div class="dd" style="right:394.15px;top:763.40px">.3425<br>.3438<br>.3465</div>
<div class="dc" style="left:659.7px;top:819.60px"><span class="b">S</span><br><span class="g">8.90<i>mm</i></span><br><span class="g">9.00<i>mm</i></span></div>
<div class="dd" style="right:394.15px;top:819.60px">.3480<br>.3504<br>.3543</div>
<div class="dc" style="left:659.7px;top:875.80px"><span class="b">T</span><br><span class="g">9.10<i>mm</i></span><br><span class="r">23/64</span></div>
<div class="dd" style="right:394.15px;top:875.80px">.3580<br>.3583<br>.3594</div>
<div class="dc" style="left:748.45px;top:370.00px"><span class="g">9.20<i>mm</i></span><br><span class="g">9.30<i>mm</i></span><br><span class="b">U</span></div>
<div class="dd" style="right:305.4px;top:370.00px">.3622<br>.3661<br>.3680</div>
<div class="dc" style="left:748.45px;top:426.20px"><span class="g">9.40<i>mm</i></span><br><span class="g">9.50<i>mm</i></span><br><span class="r">3/8</span></div>
<div class="dd" style="right:305.4px;top:426.20px">.3701<br>.3740<br>.3750</div>
<div class="dc" style="left:748.45px;top:482.40px"><span class="b">V</span><br><span class="g">9.60<i>mm</i></span><br><span class="g">9.70<i>mm</i></span></div>
<div class="dd" style="right:305.4px;top:482.40px">.3770<br>.3780<br>.3819</div>
<div class="dc" style="left:748.45px;top:538.60px"><span class="g">9.80<i>mm</i></span><br><span class="b">W</span><br><span class="g">9.90<i>mm</i></span></div>
<div class="dd" style="right:305.4px;top:538.60px">.3858<br>.3860<br>.3898</div>
<div class="dc" style="left:748.45px;top:594.80px"><span class="r">25/64</span><br><span class="g">10.00<i>mm</i></span><br><span class="b">X</span></div>
<div class="dd" style="right:305.4px;top:594.80px">.3906<br>.3937<br>.3970</div>
<div class="dc" style="left:748.45px;top:651.00px"><span class="g">10.20<i>mm</i></span><br><span class="b">Y</span><br><span class="r">13/32</span></div>
<div class="dd" style="right:305.4px;top:651.00px">.4016<br>.4040<br>.4062</div>
<div class="dc" style="left:748.45px;top:707.20px"><span class="b">Z</span><br><span class="g">10.50<i>mm</i></span><br><span class="r">27/64</span></div>
<div class="dd" style="right:305.4px;top:707.20px">.4130<br>.4134<br>.4219</div>
<div class="dc" style="left:748.45px;top:763.40px"><span class="g">10.80<i>mm</i></span><br><span class="g">11.00<i>mm</i></span><br><span class="r">7/16</span></div>
<div class="dd" style="right:305.4px;top:763.40px">.4252<br>.4331<br>.4375</div>
<div class="dc" style="left:748.45px;top:819.60px"><span class="g">11.20<i>mm</i></span><br><span class="g">11.50<i>mm</i></span><br><span class="r">29/64</span></div>
<div class="dd" style="right:305.4px;top:819.60px">.4409<br>.4528<br>.4531</div>
<div class="dc" style="left:748.45px;top:875.80px"><span class="g">11.80<i>mm</i></span><br><span class="r">15/32</span><br><span class="g">12.00<i>mm</i></span></div>
<div class="dd" style="right:305.4px;top:875.80px">.4646<br>.4688<br>.4724</div>
<div class="dc" style="left:837.2px;top:370.00px"><span class="g">12.20<i>mm</i></span><br><span class="r">31/64</span><br><span class="g">12.50<i>mm</i></span></div>
<div class="dd" style="right:216.65px;top:370.00px">.4803<br>.4844<br>.4921</div>
<div class="dc" style="left:837.2px;top:426.20px"><span class="r">1/2</span><br><span class="g">12.80<i>mm</i></span><br><span class="g">13.00<i>mm</i></span></div>
<div class="dd" style="right:216.65px;top:426.20px">.5000<br>.5039<br>.5118</div>
<div class="dc" style="left:837.2px;top:482.40px"><span class="r">33/64</span><br><span class="g">13.20<i>mm</i></span><br><span class="r">17/32</span></div>
<div class="dd" style="right:216.65px;top:482.40px">.5156<br>.5197<br>.5312</div>
<div class="dc" style="left:837.2px;top:538.60px"><span class="g">13.50<i>mm</i></span><br><span class="g">13.80<i>mm</i></span><br><span class="r">35/64</span></div>
<div class="dd" style="right:216.65px;top:538.60px">.5315<br>.5433<br>.5469</div>
<div class="dc" style="left:837.2px;top:603.05px"><span class="g">14.00<i>mm</i></span><br><span class="g">14.25<i>mm</i></span></div>
<div class="dd" style="right:216.65px;top:603.05px">.5512<br>.5610</div>
<div class="dc" style="left:837.2px;top:651.00px"><span class="r">9/16</span><br><span class="g">14.50<i>mm</i></span><br><span class="r">37/64</span></div>
<div class="dd" style="right:216.65px;top:651.00px">.5625<br>.5709<br>.5781</div>
<div class="dc" style="left:837.2px;top:707.20px"><span class="g">14.75<i>mm</i></span><br><span class="g">15.00<i>mm</i></span><br><span class="r">19/32</span></div>
<div class="dd" style="right:216.65px;top:707.20px">.5807<br>.5906<br>.5938</div>
<div class="dc" style="left:837.2px;top:763.40px"><span class="g">15.25<i>mm</i></span><br><span class="r">39/64</span><br><span class="g">15.50<i>mm</i></span></div>
<div class="dd" style="right:216.65px;top:763.40px">.6004<br>.6094<br>.6102</div>
<div class="dc" style="left:837.2px;top:819.60px"><span class="g">15.75<i>mm</i></span><br><span class="r">5/8</span><br><span class="g">16.00<i>mm</i></span></div>
<div class="dd" style="right:216.65px;top:819.60px">.6201<br>.6250<br>.6299</div>
<div class="dc" style="left:837.2px;top:875.80px"><span class="g">16.25<i>mm</i></span><br><span class="r">41/64</span><br><span class="g">16.50<i>mm</i></span></div>
<div class="dd" style="right:216.65px;top:875.80px">.6398<br>.6406<br>.6496</div>
<div class="dc" style="left:925.95px;top:370.00px"><span class="r">21/32</span><br><span class="g">16.75<i>mm</i></span><br><span class="g">17.00<i>mm</i></span></div>
<div class="dd" style="right:127.9px;top:370.00px">.6562<br>.6594<br>.6693</div>
<div class="dc" style="left:925.95px;top:426.20px"><span class="r">43/64</span><br><span class="g">17.25<i>mm</i></span><br><span class="r">11/16</span></div>
<div class="dd" style="right:127.9px;top:426.20px">.6719<br>.6791<br>.6875</div>
<div class="dc" style="left:925.95px;top:482.40px"><span class="g">17.50<i>mm</i></span><br><span class="r">45/64</span><br><span class="g">18.00<i>mm</i></span></div>
<div class="dd" style="right:127.9px;top:482.40px">.6890<br>.7031<br>.7087</div>
<div class="dc" style="left:925.95px;top:538.60px"><span class="r">23/32</span><br><span class="g">18.50<i>mm</i></span><br><span class="r">47/64</span></div>
<div class="dd" style="right:127.9px;top:538.60px">.7188<br>.7283<br>.7344</div>
<div class="dc" style="left:925.95px;top:594.80px"><span class="g">19.00<i>mm</i></span><br><span class="r">3/4</span><br><span class="r">49/64</span></div>
<div class="dd" style="right:127.9px;top:594.80px">.7480<br>.7500<br>.7656</div>
<div class="dc" style="left:925.95px;top:651.00px"><span class="g">19.50<i>mm</i></span><br><span class="r">25/32</span><br><span class="g">20.00<i>mm</i></span></div>
<div class="dd" style="right:127.9px;top:651.00px">.7677<br>.7812<br>.7874</div>
<div class="dc" style="left:925.95px;top:707.20px"><span class="r">51/64</span><br><span class="g">20.50<i>mm</i></span><br><span class="r">13/16</span></div>
<div class="dd" style="right:127.9px;top:707.20px">.7969<br>.8071<br>.8125</div>
<div class="dc" style="left:925.95px;top:763.40px"><span class="g">21.00<i>mm</i></span><br><span class="r">53/64</span><br><span class="r">27/32</span></div>
<div class="dd" style="right:127.9px;top:763.40px">.8268<br>.8281<br>.8438</div>
<div class="dc" style="left:925.95px;top:819.60px"><span class="g">21.50<i>mm</i></span><br><span class="r">55/64</span><br><span class="g">22.00<i>mm</i></span></div>
<div class="dd" style="right:127.9px;top:819.60px">.8465<br>.8594<br>.8661</div>
<div class="dc" style="left:925.95px;top:875.80px"><span class="r">7/8</span><br><span class="g">22.50<i>mm</i></span><br><span class="r">57/64</span></div>
<div class="dd" style="right:127.9px;top:875.80px">.8750<br>.8858<br>.8906</div>
<div class="dc" style="left:1014.7px;top:370.00px"><span class="g">23.00<i>mm</i></span><br><span class="r">29/32</span><br><span class="r">59/64</span></div>
<div class="dd" style="right:39.15px;top:370.00px">.9055<br>.9062<br>.9219</div>
<div class="dc" style="left:1014.7px;top:426.20px"><span class="g">23.50<i>mm</i></span><br><span class="r">15/16</span><br><span class="g">24.00<i>mm</i></span></div>
<div class="dd" style="right:39.15px;top:426.20px">.9252<br>.9375<br>.9449</div>
<div class="dc" style="left:1014.7px;top:482.40px"><span class="r">61/64</span><br><span class="g">24.50<i>mm</i></span><br><span class="r">31/32</span></div>
<div class="dd" style="right:39.15px;top:482.40px">.9531<br>.9646<br>.9688</div>
<div class="dc" style="left:1014.7px;top:538.60px"><span class="g">25.00<i>mm</i></span><br><span class="r">63/64</span><br><span class="r">1”</span></div>
<div class="dd" style="right:39.15px;top:538.60px">.9843<br>.9844<br>1.0000</div>
<div class="a" style="left:35.25px;top:965px;width:1065.2px;height:58.6px;background:#114c8f;"></div>
<div class="t" style="left:402.881px;top:977.72px;font-size:29.0698px;color:#fff;transform:scaleX(0.559);font-weight:700;-webkit-text-stroke:1.3px #fff;">TAP</div>
<div class="t" style="left:445.973px;top:977.72px;font-size:29.0698px;color:#fff;transform:scaleX(0.716);font-weight:700;-webkit-text-stroke:1.3px #fff;">DRILL</div>
<div class="t" style="left:517.068px;top:977.72px;font-size:29.0698px;color:#fff;transform:scaleX(0.702);font-weight:700;-webkit-text-stroke:1.3px #fff;">SIZES</div>
<div class="t" style="left:583.763px;top:977.72px;font-size:29.0698px;color:#fff;transform:scaleX(0.724);font-weight:700;-webkit-text-stroke:1.3px #fff;">FOR</div>
<div class="t" style="left:635.48px;top:977.72px;font-size:29.0698px;color:#fff;transform:scaleX(0.774);font-weight:700;-webkit-text-stroke:1.3px #fff;">CUTTING</div>
<div class="a" style="left:35.5px;top:1023.6px;width:119.6px;height:48.2px;background:#000;"></div>
<div class="a" style="left:155.1px;top:1023.6px;width:109.7px;height:48.2px;background:linear-gradient(90deg,#363d4b,#434a58);"></div>
<div class="a" style="left:264.8px;top:1023.6px;width:125.75px;height:48.2px;background:linear-gradient(90deg,#737985,#666c78);"></div>
<div class="a" style="left:108px;top:1047.6px;width:0.8px;height:24.2px;background:#1c1c1c;"></div>
<div class="t tc" style="left:-404.7px;width:1000px;top:1031.50px;font-size:12.6px;color:#fff;transform:scaleX(0.592);font-weight:700;-webkit-text-stroke:.3px #fff;">TAP SIZE &amp; PITCH</div>
<div class="t tc" style="left:-290.05px;width:1000px;top:1031.50px;font-size:12.6px;color:#fff;transform:scaleX(0.580);font-weight:700;-webkit-text-stroke:.3px #fff;">CUTTING TAPS</div>
<div class="t tc" style="left:-172.325px;width:1000px;top:1031.50px;font-size:12.6px;color:#fff;transform:scaleX(0.585);font-weight:700;-webkit-text-stroke:.3px #fff;">FORMING TAPS</div>
<div class="t" style="left:38.4px;top:1050.00px;font-size:12.2px;color:#fff;transform:scaleX(0.650);font-weight:700;-webkit-text-stroke:.3px #fff;">Inch</div>
<div class="t tr" style="right:983.6px;top:1050.00px;font-size:12.2px;color:#fff;transform:scaleX(0.671);font-weight:700;-webkit-text-stroke:.3px #fff;">Metric</div>
<div class="t" style="left:158.4px;top:1050.00px;font-size:12.2px;color:#fff;transform:scaleX(0.689);font-weight:700;-webkit-text-stroke:.3px #fff;">Drill Size</div>
<div class="t tr" style="right:873.5px;top:1050.00px;font-size:12.2px;color:#fff;transform:scaleX(0.654);font-weight:700;-webkit-text-stroke:.3px #fff;">Decimal</div>
<div class="t" style="left:268.1px;top:1050.00px;font-size:12.2px;color:#fff;transform:scaleX(0.689);font-weight:700;-webkit-text-stroke:.3px #fff;">Drill Size</div>
<div class="t tr" style="right:748.25px;top:1050.00px;font-size:12.2px;color:#fff;transform:scaleX(0.654);font-weight:700;-webkit-text-stroke:.3px #fff;">Decimal</div>
<div class="a" style="left:35.5px;top:1071.8px;width:355.05px;height:15.8px;background:#ececed;"></div>
<div class="a" style="left:35.5px;top:1117.1px;width:355.05px;height:29.1px;background:#ececed;"></div>
<div class="a" style="left:35.5px;top:1162.1px;width:355.05px;height:29.4px;background:#ececed;"></div>
<div class="a" style="left:35.5px;top:1220.4px;width:355.05px;height:55.3px;background:#ececed;"></div>
<div class="a" style="left:35.5px;top:1291.6px;width:355.05px;height:28.9px;background:#ececed;"></div>
<div class="a" style="left:35.5px;top:1336.2px;width:355.05px;height:29.2px;background:#ececed;"></div>
<div class="a" style="left:35.5px;top:1381.3px;width:355.05px;height:29.4px;background:#ececed;"></div>
<div class="a" style="left:35.5px;top:1426.4px;width:355.05px;height:29.1px;background:#ececed;"></div>
<div class="a" style="left:35.5px;top:1471.2px;width:355.05px;height:29.1px;background:#ececed;"></div>
<div class="a" style="left:154.6px;top:1071.8px;width:1px;height:428.5px;background:#97989a;"></div>
<div class="a" style="left:211.8px;top:1071.8px;width:1px;height:428.5px;background:#b9babc;"></div>
<div class="a" style="left:264.3px;top:1071.8px;width:1px;height:428.5px;background:#b9babc;"></div>
<div class="a" style="left:321.7px;top:1071.8px;width:1px;height:428.5px;background:#b9babc;"></div>
<div class="a" style="left:35px;top:1071.8px;width:1px;height:428.5px;background:#98999b;"></div>
<div class="a" style="left:390.05px;top:1071.8px;width:1px;height:428.5px;background:#98999b;"></div>
<div class="a" style="left:35.5px;top:1087px;width:355.05px;height:1px;background:#98999b;"></div>
<div class="a" style="left:35.5px;top:1117px;width:355.05px;height:1px;background:#98999b;"></div>
<div class="a" style="left:35.5px;top:1146px;width:355.05px;height:1px;background:#98999b;"></div>
<div class="a" style="left:35.5px;top:1162px;width:355.05px;height:1px;background:#98999b;"></div>
<div class="a" style="left:35.5px;top:1191px;width:355.05px;height:1px;background:#98999b;"></div>
<div class="a" style="left:35.5px;top:1220px;width:355.05px;height:1px;background:#98999b;"></div>
<div class="a" style="left:35.5px;top:1275px;width:355.05px;height:1px;background:#98999b;"></div>
<div class="a" style="left:35.5px;top:1291px;width:355.05px;height:1px;background:#98999b;"></div>
<div class="a" style="left:35.5px;top:1320px;width:355.05px;height:1px;background:#98999b;"></div>
<div class="a" style="left:35.5px;top:1336px;width:355.05px;height:1px;background:#98999b;"></div>
<div class="a" style="left:35.5px;top:1365px;width:355.05px;height:1px;background:#98999b;"></div>
<div class="a" style="left:35.5px;top:1381px;width:355.05px;height:1px;background:#98999b;"></div>
<div class="a" style="left:35.5px;top:1410px;width:355.05px;height:1px;background:#98999b;"></div>
<div class="a" style="left:35.5px;top:1426px;width:355.05px;height:1px;background:#98999b;"></div>
<div class="a" style="left:35.5px;top:1455px;width:355.05px;height:1px;background:#98999b;"></div>
<div class="a" style="left:35.5px;top:1471px;width:355.05px;height:1px;background:#98999b;"></div>
<div class="a" style="left:35.5px;top:1500px;width:355.05px;height:1px;background:#98999b;"></div>
<div class="tl ti" style="left:38.70px;top:1072.85px">0-80</div>
<div class="tl td" style="left:158.10px;top:1072.85px"><span class="r">3/64</span></div>
<div class="tl tn" style="right:873.70px;top:1072.85px">.0469</div>
<div class="tl td" style="left:268.10px;top:1072.85px"><span class="p">54</span></div>
<div class="tl tn" style="right:748.75px;top:1072.85px">.0550</div>
<div class="tl tm" style="right:983.70px;top:1088.35px">M1.6 x 0.35<br>M1.8 x 0.35</div>
<div class="tl td" style="left:158.10px;top:1088.85px"><span class="g">1.25</span><br><span class="g">1.45</span></div>
<div class="tl tn" style="right:873.70px;top:1088.85px">.0492<br>.0571</div>
<div class="tl td" style="left:268.10px;top:1088.85px"><span class="g">1.45</span><br><span class="g">1.65</span></div>
<div class="tl tn" style="right:748.75px;top:1088.85px">.0571<br>.0650</div>
<div class="tl ti" style="left:38.70px;top:1118.15px">1-64<br>1-72</div>
<div class="tl td" style="left:158.10px;top:1118.15px"><span class="p">53</span><br><span class="p">53</span></div>
<div class="tl tn" style="right:873.70px;top:1118.15px">.0595<br>.0595</div>
<div class="tl td" style="left:268.10px;top:1118.15px"><span class="p">51</span><br><span class="p">51</span></div>
<div class="tl tn" style="right:748.75px;top:1118.15px">.0670<br>.0670</div>
<div class="tl tm" style="right:983.70px;top:1146.80px">M2 x 0.40</div>
<div class="tl td" style="left:158.10px;top:1147.30px"><span class="g">1.60</span></div>
<div class="tl tn" style="right:873.70px;top:1147.30px">.0630</div>
<div class="tl td" style="left:268.10px;top:1147.30px"><span class="g">1.80</span></div>
<div class="tl tn" style="right:748.75px;top:1147.30px">.0709</div>
<div class="tl ti" style="left:38.70px;top:1163.30px">2-56<br>2-64</div>
<div class="tl td" style="left:158.10px;top:1163.30px"><span class="p">50</span><br><span class="p">50</span></div>
<div class="tl tn" style="right:873.70px;top:1163.30px">.0700<br>.0700</div>
<div class="tl td" style="left:268.10px;top:1163.30px"><span class="r">5/64</span><br><span class="p">47</span></div>
<div class="tl tn" style="right:748.75px;top:1163.30px">.0781<br>.0785</div>
<div class="tl tm" style="right:983.70px;top:1191.95px">M2.2 x 0.45<br>M2.5 x 0.45</div>
<div class="tl td" style="left:158.10px;top:1192.45px"><span class="g">1.75</span><br><span class="g">2.05</span></div>
<div class="tl tn" style="right:873.70px;top:1192.45px">.0689<br>.0807</div>
<div class="tl td" style="left:268.10px;top:1192.45px"><span class="g">2.00</span><br><span class="g">2.30</span></div>
<div class="tl tn" style="right:748.75px;top:1192.45px">.0787<br>.0906</div>
<div class="tl ti" style="left:38.70px;top:1221.25px">3-48<br>3-56<br>4-40<br>4-48</div>
<div class="tl td" style="left:158.10px;top:1221.25px"><span class="p">47</span><br><span class="p">46</span><br><span class="p">43</span><br><span class="p">42</span></div>
<div class="tl tn" style="right:873.70px;top:1221.25px">.0785<br>.0810<br>.0890<br>.0935</div>
<div class="tl td" style="left:268.10px;top:1221.25px"><span class="p">43</span><br><span class="g">2.30</span><br><span class="p">38</span><br><span class="g">2.60</span></div>
<div class="tl tn" style="right:748.75px;top:1221.25px">.0890<br>.0906<br>.1015<br>.1024</div>
<div class="tl tm" style="right:983.70px;top:1276.30px">M3 x 0.50</div>
<div class="tl td" style="left:158.10px;top:1276.80px"><span class="g">2.50</span></div>
<div class="tl tn" style="right:873.70px;top:1276.80px">.0984</div>
<div class="tl td" style="left:268.10px;top:1276.80px"><span class="r">7/64</span></div>
<div class="tl tn" style="right:748.75px;top:1276.80px">.1094</div>
<div class="tl ti" style="left:38.70px;top:1292.55px">5-40<br>5-44</div>
<div class="tl td" style="left:158.10px;top:1292.55px"><span class="p">38</span><br><span class="p">37</span></div>
<div class="tl tn" style="right:873.70px;top:1292.55px">.1015<br>.1040</div>
<div class="tl td" style="left:268.10px;top:1292.55px"><span class="p">33</span><br><span class="g">2.90</span></div>
<div class="tl tn" style="right:748.75px;top:1292.55px">.1130<br>.1142</div>
<div class="tl tm" style="right:983.70px;top:1321.00px">M3.5 x 0.60</div>
<div class="tl td" style="left:158.10px;top:1321.50px"><span class="g">2.90</span></div>
<div class="tl tn" style="right:873.70px;top:1321.50px">.1142</div>
<div class="tl td" style="left:268.10px;top:1321.50px"><span class="g">3.20</span></div>
<div class="tl tn" style="right:748.75px;top:1321.50px">.1260</div>
<div class="tl ti" style="left:38.70px;top:1337.30px">6-32<br>6-40</div>
<div class="tl td" style="left:158.10px;top:1337.30px"><span class="p">36</span><br><span class="p">33</span></div>
<div class="tl tn" style="right:873.70px;top:1337.30px">.1065<br>.1130</div>
<div class="tl td" style="left:268.10px;top:1337.30px"><span class="r">1/8</span><br><span class="g">3.25</span></div>
<div class="tl tn" style="right:748.75px;top:1337.30px">.1250<br>.1280</div>
<div class="tl tm" style="right:983.70px;top:1366.00px">M4 x 0.70</div>
<div class="tl td" style="left:158.10px;top:1366.50px"><span class="g">3.30</span></div>
<div class="tl tn" style="right:873.70px;top:1366.50px">.1299</div>
<div class="tl td" style="left:268.10px;top:1366.50px"><span class="g">3.70</span></div>
<div class="tl tn" style="right:748.75px;top:1366.50px">.1457</div>
<div class="tl ti" style="left:38.70px;top:1382.50px">8-32<br>8-36</div>
<div class="tl td" style="left:158.10px;top:1382.50px"><span class="p">29</span><br><span class="p">29</span></div>
<div class="tl tn" style="right:873.70px;top:1382.50px">.1360<br>.1360</div>
<div class="tl td" style="left:268.10px;top:1382.50px"><span class="p">25</span><br><span class="p">24</span></div>
<div class="tl tn" style="right:748.75px;top:1382.50px">.1495<br>.1520</div>
<div class="tl tm" style="right:983.70px;top:1411.20px">M4.5 x 0.75</div>
<div class="tl td" style="left:158.10px;top:1411.70px"><span class="g">3.70</span></div>
<div class="tl tn" style="right:873.70px;top:1411.70px">.1457</div>
<div class="tl td" style="left:268.10px;top:1411.70px"><span class="g">4.10</span></div>
<div class="tl tn" style="right:748.75px;top:1411.70px">.1614</div>
<div class="tl ti" style="left:38.70px;top:1427.45px">10-24<br>10-32</div>
<div class="tl td" style="left:158.10px;top:1427.45px"><span class="p">26</span><br><span class="p">21</span></div>
<div class="tl tn" style="right:873.70px;top:1427.45px">.1470<br>.1590</div>
<div class="tl td" style="left:268.10px;top:1427.45px"><span class="r">11/64</span><br><span class="p">16</span></div>
<div class="tl tn" style="right:748.75px;top:1427.45px">.1719<br>.1770</div>
<div class="tl tm" style="right:983.70px;top:1456.00px">M5 x 0.80</div>
<div class="tl td" style="left:158.10px;top:1456.50px"><span class="k">4.20</span></div>
<div class="tl tn" style="right:873.70px;top:1456.50px">.1654</div>
<div class="tl td" style="left:268.10px;top:1456.50px"><span class="p">14</span></div>
<div class="tl tn" style="right:748.75px;top:1456.50px">.1820</div>
<div class="tl ti" style="left:38.70px;top:1472.25px">12-24<br>12-28</div>
<div class="tl td" style="left:158.10px;top:1472.25px"><span class="p">16</span><br><span class="p">15</span></div>
<div class="tl tn" style="right:873.70px;top:1472.25px">.1770<br>.1800</div>
<div class="tl td" style="left:268.10px;top:1472.25px"><span class="p">8</span><br><span class="p">7</span></div>
<div class="tl tn" style="right:748.75px;top:1472.25px">.1990<br>.2010</div>
<div class="a" style="left:390.55px;top:1023.6px;width:119.6px;height:48.2px;background:#000;"></div>
<div class="a" style="left:510.15px;top:1023.6px;width:109.7px;height:48.2px;background:linear-gradient(90deg,#363d4b,#434a58);"></div>
<div class="a" style="left:619.85px;top:1023.6px;width:125.75px;height:48.2px;background:linear-gradient(90deg,#737985,#666c78);"></div>
<div class="a" style="left:463.05px;top:1047.6px;width:0.8px;height:24.2px;background:#1c1c1c;"></div>
<div class="t tc" style="left:-49.65px;width:1000px;top:1031.50px;font-size:12.6px;color:#fff;transform:scaleX(0.592);font-weight:700;-webkit-text-stroke:.3px #fff;">TAP SIZE &amp; PITCH</div>
<div class="t tc" style="left:65px;width:1000px;top:1031.50px;font-size:12.6px;color:#fff;transform:scaleX(0.580);font-weight:700;-webkit-text-stroke:.3px #fff;">CUTTING TAPS</div>
<div class="t tc" style="left:182.725px;width:1000px;top:1031.50px;font-size:12.6px;color:#fff;transform:scaleX(0.585);font-weight:700;-webkit-text-stroke:.3px #fff;">FORMING TAPS</div>
<div class="t" style="left:393.45px;top:1050.00px;font-size:12.2px;color:#fff;transform:scaleX(0.650);font-weight:700;-webkit-text-stroke:.3px #fff;">Inch</div>
<div class="t tr" style="right:628.55px;top:1050.00px;font-size:12.2px;color:#fff;transform:scaleX(0.671);font-weight:700;-webkit-text-stroke:.3px #fff;">Metric</div>
<div class="t" style="left:513.45px;top:1050.00px;font-size:12.2px;color:#fff;transform:scaleX(0.689);font-weight:700;-webkit-text-stroke:.3px #fff;">Drill Size</div>
<div class="t tr" style="right:518.45px;top:1050.00px;font-size:12.2px;color:#fff;transform:scaleX(0.654);font-weight:700;-webkit-text-stroke:.3px #fff;">Decimal</div>
<div class="t" style="left:623.15px;top:1050.00px;font-size:12.2px;color:#fff;transform:scaleX(0.689);font-weight:700;-webkit-text-stroke:.3px #fff;">Drill Size</div>
<div class="t tr" style="right:393.2px;top:1050.00px;font-size:12.2px;color:#fff;transform:scaleX(0.654);font-weight:700;-webkit-text-stroke:.3px #fff;">Decimal</div>
<div class="a" style="left:390.55px;top:1088.4px;width:355.05px;height:29.2px;background:#ececed;"></div>
<div class="a" style="left:390.55px;top:1133.5px;width:355.05px;height:29.1px;background:#ececed;"></div>
<div class="a" style="left:390.55px;top:1192px;width:355.05px;height:29.3px;background:#ececed;"></div>
<div class="a" style="left:390.55px;top:1250.8px;width:355.05px;height:29.4px;background:#ececed;"></div>
<div class="a" style="left:390.55px;top:1309.4px;width:355.05px;height:29.2px;background:#ececed;"></div>
<div class="a" style="left:390.55px;top:1354.4px;width:355.05px;height:55.6px;background:#ececed;"></div>
<div class="a" style="left:390.55px;top:1439.3px;width:355.05px;height:29.1px;background:#ececed;"></div>
<div class="a" style="left:509.65px;top:1071.8px;width:1px;height:425.4px;background:#97989a;"></div>
<div class="a" style="left:566.85px;top:1071.8px;width:1px;height:425.4px;background:#b9babc;"></div>
<div class="a" style="left:619.35px;top:1071.8px;width:1px;height:425.4px;background:#b9babc;"></div>
<div class="a" style="left:676.75px;top:1071.8px;width:1px;height:425.4px;background:#b9babc;"></div>
<div class="a" style="left:390.05px;top:1071.8px;width:1px;height:425.4px;background:#98999b;"></div>
<div class="a" style="left:745.1px;top:1071.8px;width:1px;height:425.4px;background:#98999b;"></div>
<div class="a" style="left:390.55px;top:1088px;width:355.05px;height:1px;background:#98999b;"></div>
<div class="a" style="left:390.55px;top:1117px;width:355.05px;height:1px;background:#98999b;"></div>
<div class="a" style="left:390.55px;top:1133px;width:355.05px;height:1px;background:#98999b;"></div>
<div class="a" style="left:390.55px;top:1162px;width:355.05px;height:1px;background:#98999b;"></div>
<div class="a" style="left:390.55px;top:1192px;width:355.05px;height:1px;background:#98999b;"></div>
<div class="a" style="left:390.55px;top:1221px;width:355.05px;height:1px;background:#98999b;"></div>
<div class="a" style="left:390.55px;top:1250px;width:355.05px;height:1px;background:#98999b;"></div>
<div class="a" style="left:390.55px;top:1280px;width:355.05px;height:1px;background:#98999b;"></div>
<div class="a" style="left:390.55px;top:1309px;width:355.05px;height:1px;background:#98999b;"></div>
<div class="a" style="left:390.55px;top:1338px;width:355.05px;height:1px;background:#98999b;"></div>
<div class="a" style="left:390.55px;top:1354px;width:355.05px;height:1px;background:#98999b;"></div>
<div class="a" style="left:390.55px;top:1410px;width:355.05px;height:1px;background:#98999b;"></div>
<div class="a" style="left:390.55px;top:1439px;width:355.05px;height:1px;background:#98999b;"></div>
<div class="a" style="left:390.55px;top:1468px;width:355.05px;height:1px;background:#98999b;"></div>
<div class="a" style="left:390.55px;top:1497px;width:355.05px;height:1px;background:#98999b;"></div>
<div class="tl tm" style="right:628.65px;top:1072.75px">M6 x 1.00</div>
<div class="tl td" style="left:513.15px;top:1073.25px"><span class="k">5.00</span></div>
<div class="tl tn" style="right:518.65px;top:1073.25px">.1969</div>
<div class="tl td" style="left:623.15px;top:1073.25px"><span class="r">7/32</span></div>
<div class="tl tn" style="right:393.70px;top:1073.25px">.2188</div>
<div class="tl ti" style="left:393.75px;top:1089.50px">1/4-20<br>1/4-28</div>
<div class="tl td" style="left:513.15px;top:1089.50px"><span class="p">7</span><br><span class="p">3</span></div>
<div class="tl tn" style="right:518.65px;top:1089.50px">.2010<br>.2130</div>
<div class="tl td" style="left:623.15px;top:1089.50px"><span class="p">1</span><br><span class="r">15/64</span></div>
<div class="tl tn" style="right:393.70px;top:1089.50px">.2280<br>.2340</div>
<div class="tl tm" style="right:628.65px;top:1118.20px">M7 x 1.00</div>
<div class="tl td" style="left:513.15px;top:1118.70px"><span class="g">6.00</span></div>
<div class="tl tn" style="right:518.65px;top:1118.70px">.2362</div>
<div class="tl td" style="left:623.15px;top:1118.70px"><span class="b">F</span></div>
<div class="tl tn" style="right:393.70px;top:1118.70px">.2570</div>
<div class="tl ti" style="left:393.75px;top:1134.55px">5/16-18<br>5/16-24</div>
<div class="tl td" style="left:513.15px;top:1134.55px"><span class="b">F</span><br><span class="b">I</span></div>
<div class="tl tn" style="right:518.65px;top:1134.55px">.2570<br>2720</div>
<div class="tl td" style="left:623.15px;top:1134.55px"><span class="b">L</span><br><span class="b">M</span></div>
<div class="tl tn" style="right:393.70px;top:1134.55px">.2900<br>.2950</div>
<div class="tl tm" style="right:628.65px;top:1163.30px">M8 x 1.25<br>M8 x 1.00</div>
<div class="tl td" style="left:513.15px;top:1163.80px"><span class="g">6.70</span><br><span class="g">7.00</span></div>
<div class="tl tn" style="right:518.65px;top:1163.80px">.2638<br>.2756</div>
<div class="tl td" style="left:623.15px;top:1163.80px"><span class="k">7.40</span><br><span class="r">19/64</span></div>
<div class="tl tn" style="right:393.70px;top:1163.80px">.2913<br>.2969</div>
<div class="tl ti" style="left:393.75px;top:1193.15px">3/8-16<br>3/8-24</div>
<div class="tl td" style="left:513.15px;top:1193.15px"><span class="r">5/16</span><br><span class="p">Q</span></div>
<div class="tl tn" style="right:518.65px;top:1193.15px">.3125<br>.3320</div>
<div class="tl td" style="left:623.15px;top:1193.15px"><span class="b">S</span><br><span class="b">T</span></div>
<div class="tl tn" style="right:393.70px;top:1193.15px">.3480<br>.3580</div>
<div class="tl tm" style="right:628.65px;top:1222.05px">M10 x 1.50<br>M10 x 1.25</div>
<div class="tl td" style="left:513.15px;top:1222.55px"><span class="g">8.50</span><br><span class="g">8.70</span></div>
<div class="tl tn" style="right:518.65px;top:1222.55px">.3346<br>.3425</div>
<div class="tl td" style="left:623.15px;top:1222.55px"><span class="b">U</span><br><span class="r">9.40</span></div>
<div class="tl tn" style="right:393.70px;top:1222.55px">.3680<br>.3701</div>
<div class="tl ti" style="left:393.75px;top:1252.00px">7/16-14<br>7/16-20</div>
<div class="tl td" style="left:513.15px;top:1252.00px"><span class="b">U</span><br><span class="r">25/64</span></div>
<div class="tl tn" style="right:518.65px;top:1252.00px">.3680<br>.3906</div>
<div class="tl td" style="left:623.15px;top:1252.00px"><span class="b">Y</span><br><span class="b">Z</span></div>
<div class="tl tn" style="right:393.70px;top:1252.00px">.4040<br>.4130</div>
<div class="tl tm" style="right:628.65px;top:1280.80px">M12 x 1.75<br>M12 x 1.25</div>
<div class="tl td" style="left:513.15px;top:1281.30px"><span class="g">10.20</span><br><span class="g">10.80</span></div>
<div class="tl tn" style="right:518.65px;top:1281.30px">.4016<br>.4252</div>
<div class="tl td" style="left:623.15px;top:1281.30px"><span class="g">11.20</span><br><span class="g">11.50</span></div>
<div class="tl tn" style="right:393.70px;top:1281.30px">.4409<br>.4528</div>
<div class="tl ti" style="left:393.75px;top:1310.50px">1/2-13<br>1/2-20</div>
<div class="tl td" style="left:513.15px;top:1310.50px"><span class="r">27/64</span><br><span class="r">29/64</span></div>
<div class="tl tn" style="right:518.65px;top:1310.50px">.4219<br>.4531</div>
<div class="tl td" style="left:623.15px;top:1310.50px"><span class="r">15/32</span><br><span class="r">12.25</span></div>
<div class="tl tn" style="right:393.70px;top:1310.50px">.4688<br>.4823</div>
<div class="tl tm" style="right:628.65px;top:1339.15px">M14 x 2.00</div>
<div class="tl td" style="left:513.15px;top:1339.65px"><span class="g">12.00</span></div>
<div class="tl tn" style="right:518.65px;top:1339.65px">.4724</div>
<div class="tl td" style="left:623.15px;top:1339.65px"><span class="r">33/64</span></div>
<div class="tl tn" style="right:393.70px;top:1339.65px">.5156</div>
<div class="tl ti" style="left:393.75px;top:1355.40px">9/16-12<br>9/16-18<br>5/8-11<br>5/8-18</div>
<div class="tl td" style="left:513.15px;top:1355.40px"><span class="r">31/64</span><br><span class="r">33/64</span><br><span class="r">17/32</span><br><span class="r">37/64</span></div>
<div class="tl tn" style="right:518.65px;top:1355.40px">.4844<br>.5156<br>.5312<br>.5781</div>
<div class="tl td" style="left:623.15px;top:1355.40px"><span class="r">17/32</span><br><span class="g">13.50</span><br><span class="g">14.75</span><br><span class="g">15.25</span></div>
<div class="tl tn" style="right:393.70px;top:1355.40px">.5312<br>.5315<br>.5807<br>.6004</div>
<div class="tl tm" style="right:628.65px;top:1410.65px">M16 x 2.00<br>M16 x 1.50</div>
<div class="tl td" style="left:513.15px;top:1411.15px"><span class="g">14.00</span><br><span class="g">14.50</span></div>
<div class="tl tn" style="right:518.65px;top:1411.15px">.5512<br>.5709</div>
<div class="tl td" style="left:623.15px;top:1411.15px"><span class="r">19/32</span><br><span class="g">15.25</span></div>
<div class="tl tn" style="right:393.70px;top:1411.15px">.5938<br>.6004</div>
<div class="tl tm" style="right:628.65px;top:1439.85px">M18 x 2.50<br>M18 x 1.50</div>
<div class="tl td" style="left:513.15px;top:1440.35px"><span class="g">15.50</span><br><span class="g">16.50</span></div>
<div class="tl tn" style="right:518.65px;top:1440.35px">.6102<br>.6496</div>
<div class="tl td" style="left:623.15px;top:1440.35px"><span class="r">39/64</span><br><span class="g">17.25</span></div>
<div class="tl tn" style="right:393.70px;top:1440.35px">.6094<br>.6791</div>
<div class="tl ti" style="left:393.75px;top:1469.30px">3/4-10<br>3/4-16</div>
<div class="tl td" style="left:513.15px;top:1469.30px"><span class="r">21/32</span><br><span class="r">11/16</span></div>
<div class="tl tn" style="right:518.65px;top:1469.30px">.6562<br>.6875</div>
<div class="tl td" style="left:623.15px;top:1469.30px"><span class="r">45/64</span><br><span class="r">23/32</span></div>
<div class="tl tn" style="right:393.70px;top:1469.30px">.7031<br>.7188</div>
<div class="a" style="left:745.6px;top:1023.6px;width:119.6px;height:48.2px;background:#000;"></div>
<div class="a" style="left:865.2px;top:1023.6px;width:109.7px;height:48.2px;background:linear-gradient(90deg,#363d4b,#434a58);"></div>
<div class="a" style="left:974.9px;top:1023.6px;width:125.75px;height:48.2px;background:linear-gradient(90deg,#737985,#666c78);"></div>
<div class="a" style="left:818.1px;top:1047.6px;width:0.8px;height:24.2px;background:#1c1c1c;"></div>
<div class="t tc" style="left:305.4px;width:1000px;top:1031.50px;font-size:12.6px;color:#fff;transform:scaleX(0.592);font-weight:700;-webkit-text-stroke:.3px #fff;">TAP SIZE &amp; PITCH</div>
<div class="t tc" style="left:420.05px;width:1000px;top:1031.50px;font-size:12.6px;color:#fff;transform:scaleX(0.580);font-weight:700;-webkit-text-stroke:.3px #fff;">CUTTING TAPS</div>
<div class="t tc" style="left:537.775px;width:1000px;top:1031.50px;font-size:12.6px;color:#fff;transform:scaleX(0.585);font-weight:700;-webkit-text-stroke:.3px #fff;">FORMING TAPS</div>
<div class="t" style="left:748.5px;top:1050.00px;font-size:12.2px;color:#fff;transform:scaleX(0.650);font-weight:700;-webkit-text-stroke:.3px #fff;">Inch</div>
<div class="t tr" style="right:273.5px;top:1050.00px;font-size:12.2px;color:#fff;transform:scaleX(0.671);font-weight:700;-webkit-text-stroke:.3px #fff;">Metric</div>
<div class="t" style="left:868.5px;top:1050.00px;font-size:12.2px;color:#fff;transform:scaleX(0.689);font-weight:700;-webkit-text-stroke:.3px #fff;">Drill Size</div>
<div class="t tr" style="right:163.4px;top:1050.00px;font-size:12.2px;color:#fff;transform:scaleX(0.654);font-weight:700;-webkit-text-stroke:.3px #fff;">Decimal</div>
<div class="t" style="left:978.2px;top:1050.00px;font-size:12.2px;color:#fff;transform:scaleX(0.689);font-weight:700;-webkit-text-stroke:.3px #fff;">Drill Size</div>
<div class="t tr" style="right:38.15px;top:1050.00px;font-size:12.2px;color:#fff;transform:scaleX(0.654);font-weight:700;-webkit-text-stroke:.3px #fff;">Decimal</div>
<div class="a" style="left:745.6px;top:1071.8px;width:355.05px;height:29.1px;background:#ececed;"></div>
<div class="a" style="left:745.6px;top:1130.2px;width:355.05px;height:29.2px;background:#ececed;"></div>
<div class="a" style="left:745.6px;top:1188.7px;width:355.05px;height:29.2px;background:#ececed;"></div>
<div class="a" style="left:745.6px;top:1247px;width:355.05px;height:29.1px;background:#ececed;"></div>
<div class="a" style="left:745.6px;top:1305.2px;width:355.05px;height:29.2px;background:#ececed;"></div>
<div class="a" style="left:745.6px;top:1363.7px;width:355.05px;height:28.7px;background:#ececed;"></div>
<div class="a" style="left:745.6px;top:1421.4px;width:355.05px;height:28.9px;background:#ececed;"></div>
<div class="a" style="left:864.7px;top:1071.8px;width:1px;height:419.9px;background:#97989a;"></div>
<div class="a" style="left:921.9px;top:1071.8px;width:1px;height:419.9px;background:#b9babc;"></div>
<div class="a" style="left:974.4px;top:1071.8px;width:1px;height:419.9px;background:#b9babc;"></div>
<div class="a" style="left:1031.8px;top:1071.8px;width:1px;height:419.9px;background:#b9babc;"></div>
<div class="a" style="left:745.1px;top:1071.8px;width:1px;height:419.9px;background:#98999b;"></div>
<div class="a" style="left:1100.15px;top:1071.8px;width:1px;height:419.9px;background:#98999b;"></div>
<div class="a" style="left:745.6px;top:1100px;width:355.05px;height:1px;background:#98999b;"></div>
<div class="a" style="left:745.6px;top:1130px;width:355.05px;height:1px;background:#98999b;"></div>
<div class="a" style="left:745.6px;top:1159px;width:355.05px;height:1px;background:#98999b;"></div>
<div class="a" style="left:745.6px;top:1188px;width:355.05px;height:1px;background:#98999b;"></div>
<div class="a" style="left:745.6px;top:1217px;width:355.05px;height:1px;background:#98999b;"></div>
<div class="a" style="left:745.6px;top:1246px;width:355.05px;height:1px;background:#98999b;"></div>
<div class="a" style="left:745.6px;top:1276px;width:355.05px;height:1px;background:#98999b;"></div>
<div class="a" style="left:745.6px;top:1305px;width:355.05px;height:1px;background:#98999b;"></div>
<div class="a" style="left:745.6px;top:1334px;width:355.05px;height:1px;background:#98999b;"></div>
<div class="a" style="left:745.6px;top:1363px;width:355.05px;height:1px;background:#98999b;"></div>
<div class="a" style="left:745.6px;top:1392px;width:355.05px;height:1px;background:#98999b;"></div>
<div class="a" style="left:745.6px;top:1421px;width:355.05px;height:1px;background:#98999b;"></div>
<div class="a" style="left:745.6px;top:1450px;width:355.05px;height:1px;background:#98999b;"></div>
<div class="a" style="left:745.6px;top:1491px;width:355.05px;height:1px;background:#98999b;"></div>
<div class="tl tm" style="right:273.60px;top:1072.35px">M20 x 2.50<br>M20 x 1.50</div>
<div class="tl td" style="left:868.20px;top:1072.85px"><span class="g">17.50</span><br><span class="g">18.50</span></div>
<div class="tl tn" style="right:163.60px;top:1072.85px">.6890<br>.7283</div>
<div class="tl tm" style="right:273.60px;top:1101.55px">M22 x 2.50<br>M22 x 1.50</div>
<div class="tl td" style="left:868.20px;top:1102.05px"><span class="g">19.50</span><br><span class="g">20.50</span></div>
<div class="tl tn" style="right:163.60px;top:1102.05px">.7677<br>.8071</div>
<div class="tl ti" style="left:748.80px;top:1131.30px">7/8-9<br>7/8-14</div>
<div class="tl td" style="left:868.20px;top:1131.30px"><span class="r">49/64</span><br><span class="r">13/16</span></div>
<div class="tl tn" style="right:163.60px;top:1131.30px">.7656<br>.8125</div>
<div class="tl tm" style="right:273.60px;top:1160.05px">M24 x 3.00<br>M24 x 2.00</div>
<div class="tl td" style="left:868.20px;top:1160.55px"><span class="g">21.00</span><br><span class="g">22.00</span></div>
<div class="tl tn" style="right:163.60px;top:1160.55px">.8268<br>.8661</div>
<div class="tl ti" style="left:748.80px;top:1189.80px">1-8<br>1-12</div>
<div class="tl td" style="left:868.20px;top:1189.80px"><span class="r">7/8</span><br><span class="r">59/64</span></div>
<div class="tl tn" style="right:163.60px;top:1189.80px">.8750<br>.9219</div>
<div class="tl tm" style="right:273.60px;top:1218.45px">M27 x 3.00<br>M27 x 2.00</div>
<div class="tl td" style="left:868.20px;top:1218.95px"><span class="g">24.00</span><br><span class="g">25.00</span></div>
<div class="tl tn" style="right:163.60px;top:1218.95px">.9449<br>.9843</div>
<div class="tl ti" style="left:748.80px;top:1248.05px">1-1/8-7<br>1-1/8-12</div>
<div class="tl td" style="left:868.20px;top:1248.05px"><span class="r">63/64</span><br><span class="r">1-3/64</span></div>
<div class="tl tn" style="right:163.60px;top:1248.05px">.9844<br>1.0469</div>
<div class="tl tm" style="right:273.60px;top:1276.65px">M30 x 3.50<br>M30 x 2.00</div>
<div class="tl td" style="left:868.20px;top:1277.15px"><span class="g">26.50</span><br><span class="g">28.00</span></div>
<div class="tl tn" style="right:163.60px;top:1277.15px">1.0433<br>1.1024</div>
<div class="tl ti" style="left:748.80px;top:1306.30px">1-1/4-7<br>1-1/4-12</div>
<div class="tl td" style="left:868.20px;top:1306.30px"><span class="r">1-7/64</span><br><span class="r">1-11/64</span></div>
<div class="tl tn" style="right:163.60px;top:1306.30px">1.1094<br>1.1719</div>
<div class="tl tm" style="right:273.60px;top:1335.05px">M33 x 3.50<br>M33 x 2.00</div>
<div class="tl td" style="left:868.20px;top:1335.55px"><span class="g">29.50</span><br><span class="g">31.00</span></div>
<div class="tl tn" style="right:163.60px;top:1335.55px">1.1614<br>1.2205</div>
<div class="tl ti" style="left:748.80px;top:1364.55px">1-3/8-6<br>1-3/8-12</div>
<div class="tl td" style="left:868.20px;top:1364.55px"><span class="r">1-7/32</span><br><span class="r">1-19/64</span></div>
<div class="tl tn" style="right:163.60px;top:1364.55px">1.2188<br>1.2969</div>
<div class="tl tm" style="right:273.60px;top:1392.90px">M36 x 4.00<br>M36 x 3.00</div>
<div class="tl td" style="left:868.20px;top:1393.40px"><span class="g">32.00</span><br><span class="g">33.00</span></div>
<div class="tl tn" style="right:163.60px;top:1393.40px">1.2598<br>1.2992</div>
<div class="tl ti" style="left:748.80px;top:1422.35px">1-1/2-6<br>1-1/2-12</div>
<div class="tl td" style="left:868.20px;top:1422.35px"><span class="r">1-11/32</span><br><span class="r">1-27/64</span></div>
<div class="tl tn" style="right:163.60px;top:1422.35px">1.3438<br>1.4219</div>
<div class="tl tml" style="left:748.40px;top:1450.35px">M39 x 4.00<br><br></div>
<div class="tl td" style="left:868.20px;top:1450.85px"><span class="g">35.00</span><br><br></div>
<div class="tl tn" style="right:163.60px;top:1450.85px">1.3780<br><br></div>
</div>
</body></html>
